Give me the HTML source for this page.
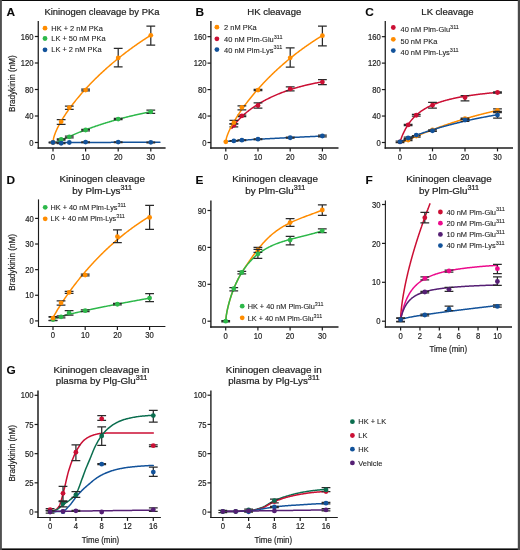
<!DOCTYPE html>
<html><head><meta charset="utf-8"><style>
html,body{margin:0;padding:0;background:#fff;}
body{width:520px;height:550px;overflow:hidden;position:relative;}
svg{position:absolute;left:0;top:0;font-family:"Liberation Sans", sans-serif;will-change:transform;}
text{stroke:#1e1e1e;}
</style></head><body>
<svg width="520" height="550" viewBox="0 0 520 550">
<text transform="translate(6.5,15.8) scale(1.07,1)" font-size="11.1" text-anchor="start" font-weight="bold" fill="#0a0a0a" stroke-width="0.1">A</text>
<text x="44.4" y="15.4" font-size="9.42" text-anchor="start" font-weight="normal" fill="#1e1e1e" stroke-width="0.22">Kininogen cleavage by PKa</text>
<line x1="38.26" y1="21" x2="38.26" y2="148.75" stroke="#1c1c1c" stroke-width="1.26"/>
<line x1="37.629999999999995" y1="148.0" x2="165.6" y2="148.0" stroke="#1c1c1c" stroke-width="1.5"/>
<line x1="34.86" y1="142.50" x2="38.26" y2="142.50" stroke="#1c1c1c" stroke-width="1.2"/>
<text transform="translate(33.4,145.6) scale(0.88,1)" font-size="8.7" text-anchor="end" font-weight="normal" fill="#1e1e1e" stroke-width="0.2">0</text>
<line x1="34.86" y1="116.00" x2="38.26" y2="116.00" stroke="#1c1c1c" stroke-width="1.2"/>
<text transform="translate(33.4,119.1) scale(0.88,1)" font-size="8.7" text-anchor="end" font-weight="normal" fill="#1e1e1e" stroke-width="0.2">40</text>
<line x1="34.86" y1="89.50" x2="38.26" y2="89.50" stroke="#1c1c1c" stroke-width="1.2"/>
<text transform="translate(33.4,92.6) scale(0.88,1)" font-size="8.7" text-anchor="end" font-weight="normal" fill="#1e1e1e" stroke-width="0.2">80</text>
<line x1="34.86" y1="63.00" x2="38.26" y2="63.00" stroke="#1c1c1c" stroke-width="1.2"/>
<text transform="translate(33.4,66.1) scale(0.88,1)" font-size="8.7" text-anchor="end" font-weight="normal" fill="#1e1e1e" stroke-width="0.2">120</text>
<line x1="34.86" y1="36.50" x2="38.26" y2="36.50" stroke="#1c1c1c" stroke-width="1.2"/>
<text transform="translate(33.4,39.6) scale(0.88,1)" font-size="8.7" text-anchor="end" font-weight="normal" fill="#1e1e1e" stroke-width="0.2">160</text>
<line x1="53.00" y1="148.0" x2="53.00" y2="151.4" stroke="#1c1c1c" stroke-width="1.2"/>
<text transform="translate(53.0,159.6) scale(0.88,1)" font-size="8.7" text-anchor="middle" font-weight="normal" fill="#1e1e1e" stroke-width="0.2">0</text>
<line x1="85.60" y1="148.0" x2="85.60" y2="151.4" stroke="#1c1c1c" stroke-width="1.2"/>
<text transform="translate(85.6,159.6) scale(0.88,1)" font-size="8.7" text-anchor="middle" font-weight="normal" fill="#1e1e1e" stroke-width="0.2">10</text>
<line x1="118.20" y1="148.0" x2="118.20" y2="151.4" stroke="#1c1c1c" stroke-width="1.2"/>
<text transform="translate(118.19999999999999,159.6) scale(0.88,1)" font-size="8.7" text-anchor="middle" font-weight="normal" fill="#1e1e1e" stroke-width="0.2">20</text>
<line x1="150.80" y1="148.0" x2="150.80" y2="151.4" stroke="#1c1c1c" stroke-width="1.2"/>
<text transform="translate(150.8,159.6) scale(0.88,1)" font-size="8.7" text-anchor="middle" font-weight="normal" fill="#1e1e1e" stroke-width="0.2">30</text>
<text transform="translate(14.6,83.7) rotate(-90) scale(0.9,1)" font-size="9" text-anchor="middle" font-weight="normal" fill="#1e1e1e" stroke-width="0.2">Bradykinin (nM)</text>
<path d="M53.00,142.50 L53.62,138.14 L54.23,135.97 L54.85,134.18 L55.46,132.58 L56.08,131.11 L56.69,129.74 L57.31,128.43 L57.92,127.18 L58.54,125.98 L59.15,124.81 L59.77,123.68 L60.38,122.59 L61.00,121.52 L61.61,120.47 L62.23,119.45 L62.84,118.45 L63.46,117.46 L64.07,116.50 L64.69,115.55 L65.30,114.61 L65.92,113.69 L66.53,112.78 L67.15,111.89 L67.76,111.00 L68.38,110.13 L68.99,109.27 L69.61,108.42 L70.22,107.58 L70.84,106.75 L71.45,105.93 L72.07,105.11 L72.68,104.31 L73.30,103.51 L73.91,102.72 L74.53,101.94 L75.14,101.17 L75.76,100.40 L76.37,99.64 L76.99,98.89 L77.60,98.14 L78.22,97.40 L78.83,96.66 L79.45,95.93 L80.06,95.21 L80.68,94.50 L81.29,93.78 L81.91,93.08 L82.52,92.38 L83.14,91.68 L83.75,90.99 L84.37,90.31 L84.98,89.63 L85.60,88.95 L86.22,88.28 L86.83,87.62 L87.45,86.95 L88.06,86.30 L88.68,85.64 L89.29,85.00 L89.91,84.35 L90.52,83.71 L91.14,83.08 L91.75,82.44 L92.37,81.82 L92.98,81.19 L93.60,80.57 L94.21,79.96 L94.83,79.34 L95.44,78.74 L96.06,78.13 L96.67,77.53 L97.29,76.93 L97.90,76.34 L98.52,75.75 L99.13,75.16 L99.75,74.57 L100.36,73.99 L100.98,73.42 L101.59,72.84 L102.21,72.27 L102.82,71.70 L103.44,71.14 L104.05,70.58 L104.67,70.02 L105.28,69.46 L105.90,68.91 L106.51,68.36 L107.13,67.81 L107.74,67.27 L108.36,66.73 L108.97,66.19 L109.59,65.66 L110.20,65.12 L110.82,64.59 L111.43,64.07 L112.05,63.54 L112.66,63.02 L113.28,62.50 L113.89,61.99 L114.51,61.47 L115.12,60.96 L115.74,60.46 L116.35,59.95 L116.97,59.45 L117.58,58.95 L118.20,58.45 L118.82,57.95 L119.43,57.46 L120.05,56.97 L120.66,56.48 L121.28,55.99 L121.89,55.51 L122.51,55.03 L123.12,54.55 L123.74,54.08 L124.35,53.60 L124.97,53.13 L125.58,52.66 L126.20,52.19 L126.81,51.73 L127.43,51.27 L128.04,50.81 L128.66,50.35 L129.27,49.89 L129.89,49.44 L130.50,48.99 L131.12,48.54 L131.73,48.09 L132.35,47.64 L132.96,47.20 L133.58,46.76 L134.19,46.32 L134.81,45.88 L135.42,45.45 L136.04,45.02 L136.65,44.59 L137.27,44.16 L137.88,43.73 L138.50,43.31 L139.11,42.88 L139.73,42.46 L140.34,42.04 L140.96,41.63 L141.57,41.21 L142.19,40.80 L142.80,40.39 L143.42,39.98 L144.03,39.57 L144.65,39.17 L145.26,38.76 L145.88,38.36 L146.49,37.96 L147.11,37.56 L147.72,37.17 L148.34,36.77 L148.95,36.38 L149.57,35.99 L150.18,35.60 L150.80,35.22" fill="none" stroke="#FF8C00" stroke-width="1.5" stroke-linejoin="round" stroke-linecap="round"/>
<path d="M57.24,142.16 L57.83,141.87 L58.41,141.58 L59.00,141.30 L59.59,141.01 L60.18,140.72 L60.77,140.44 L61.36,140.16 L61.95,139.88 L62.53,139.60 L63.12,139.32 L63.71,139.04 L64.30,138.77 L64.89,138.50 L65.48,138.22 L66.06,137.95 L66.65,137.68 L67.24,137.42 L67.83,137.15 L68.42,136.89 L69.01,136.63 L69.60,136.37 L70.18,136.11 L70.77,135.85 L71.36,135.59 L71.95,135.34 L72.54,135.09 L73.13,134.83 L73.71,134.58 L74.30,134.33 L74.89,134.09 L75.48,133.84 L76.07,133.60 L76.66,133.35 L77.24,133.11 L77.83,132.87 L78.42,132.63 L79.01,132.40 L79.60,132.16 L80.19,131.93 L80.78,131.69 L81.36,131.46 L81.95,131.23 L82.54,131.00 L83.13,130.77 L83.72,130.55 L84.31,130.32 L84.89,130.10 L85.48,129.87 L86.07,129.65 L86.66,129.43 L87.25,129.21 L87.84,129.00 L88.43,128.78 L89.01,128.56 L89.60,128.35 L90.19,128.14 L90.78,127.93 L91.37,127.72 L91.96,127.51 L92.54,127.30 L93.13,127.09 L93.72,126.89 L94.31,126.68 L94.90,126.48 L95.49,126.28 L96.08,126.08 L96.66,125.88 L97.25,125.68 L97.84,125.48 L98.43,125.28 L99.02,125.09 L99.61,124.89 L100.19,124.70 L100.78,124.51 L101.37,124.32 L101.96,124.13 L102.55,123.94 L103.14,123.75 L103.72,123.56 L104.31,123.38 L104.90,123.19 L105.49,123.01 L106.08,122.83 L106.67,122.65 L107.26,122.47 L107.84,122.29 L108.43,122.11 L109.02,121.93 L109.61,121.76 L110.20,121.58 L110.79,121.41 L111.37,121.23 L111.96,121.06 L112.55,120.89 L113.14,120.72 L113.73,120.55 L114.32,120.38 L114.91,120.22 L115.49,120.05 L116.08,119.89 L116.67,119.72 L117.26,119.56 L117.85,119.40 L118.44,119.24 L119.02,119.08 L119.61,118.92 L120.20,118.76 L120.79,118.60 L121.38,118.44 L121.97,118.29 L122.55,118.13 L123.14,117.98 L123.73,117.83 L124.32,117.68 L124.91,117.53 L125.50,117.38 L126.09,117.23 L126.67,117.08 L127.26,116.93 L127.85,116.79 L128.44,116.64 L129.03,116.50 L129.62,116.35 L130.20,116.21 L130.79,116.07 L131.38,115.93 L131.97,115.79 L132.56,115.65 L133.15,115.51 L133.74,115.37 L134.32,115.24 L134.91,115.10 L135.50,114.97 L136.09,114.83 L136.68,114.70 L137.27,114.57 L137.85,114.44 L138.44,114.31 L139.03,114.18 L139.62,114.05 L140.21,113.92 L140.80,113.79 L141.38,113.67 L141.97,113.54 L142.56,113.42 L143.15,113.29 L143.74,113.17 L144.33,113.05 L144.92,112.93 L145.50,112.81 L146.09,112.69 L146.68,112.57 L147.27,112.45 L147.86,112.33 L148.45,112.22 L149.03,112.10 L149.62,111.99 L150.21,111.87 L150.80,111.76" fill="none" stroke="#2DB84A" stroke-width="1.5" stroke-linejoin="round" stroke-linecap="round"/>
<path d="M49.41,142.44 L50.11,142.44 L50.80,142.44 L51.50,142.44 L52.19,142.43 L52.89,142.43 L53.58,142.43 L54.28,142.43 L54.97,142.43 L55.67,142.43 L56.36,142.43 L57.06,142.43 L57.75,142.43 L58.45,142.43 L59.14,142.43 L59.84,142.43 L60.53,142.43 L61.23,142.43 L61.93,142.42 L62.62,142.42 L63.32,142.42 L64.01,142.42 L64.71,142.42 L65.40,142.42 L66.10,142.42 L66.79,142.42 L67.49,142.42 L68.18,142.42 L68.88,142.42 L69.57,142.42 L70.27,142.42 L70.96,142.42 L71.66,142.41 L72.35,142.41 L73.05,142.41 L73.74,142.41 L74.44,142.41 L75.13,142.41 L75.83,142.41 L76.52,142.41 L77.22,142.41 L77.91,142.41 L78.61,142.41 L79.30,142.41 L80.00,142.41 L80.69,142.41 L81.39,142.40 L82.08,142.40 L82.78,142.40 L83.47,142.40 L84.17,142.40 L84.86,142.40 L85.56,142.40 L86.25,142.40 L86.95,142.40 L87.64,142.40 L88.34,142.40 L89.03,142.40 L89.73,142.40 L90.42,142.40 L91.12,142.40 L91.81,142.39 L92.51,142.39 L93.20,142.39 L93.90,142.39 L94.59,142.39 L95.29,142.39 L95.98,142.39 L96.68,142.39 L97.37,142.39 L98.07,142.39 L98.76,142.39 L99.46,142.39 L100.15,142.39 L100.85,142.39 L101.54,142.38 L102.24,142.38 L102.93,142.38 L103.63,142.38 L104.32,142.38 L105.02,142.38 L105.71,142.38 L106.41,142.38 L107.10,142.38 L107.80,142.38 L108.49,142.38 L109.19,142.38 L109.88,142.38 L110.58,142.38 L111.27,142.37 L111.97,142.37 L112.66,142.37 L113.36,142.37 L114.05,142.37 L114.75,142.37 L115.44,142.37 L116.14,142.37 L116.83,142.37 L117.53,142.37 L118.22,142.37 L118.92,142.37 L119.61,142.37 L120.31,142.37 L121.00,142.36 L121.70,142.36 L122.39,142.36 L123.09,142.36 L123.79,142.36 L124.48,142.36 L125.18,142.36 L125.87,142.36 L126.57,142.36 L127.26,142.36 L127.96,142.36 L128.65,142.36 L129.35,142.36 L130.04,142.36 L130.74,142.35 L131.43,142.35 L132.13,142.35 L132.82,142.35 L133.52,142.35 L134.21,142.35 L134.91,142.35 L135.60,142.35 L136.30,142.35 L136.99,142.35 L137.69,142.35 L138.38,142.35 L139.08,142.35 L139.77,142.35 L140.47,142.34 L141.16,142.34 L141.86,142.34 L142.55,142.34 L143.25,142.34 L143.94,142.34 L144.64,142.34 L145.33,142.34 L146.03,142.34 L146.72,142.34 L147.42,142.34 L148.11,142.34 L148.81,142.34 L149.50,142.34 L150.20,142.33 L150.89,142.33 L151.59,142.33 L152.28,142.33 L152.98,142.33 L153.67,142.33 L154.37,142.33 L155.06,142.33 L155.76,142.33 L156.45,142.33 L157.15,142.33 L157.84,142.33 L158.54,142.33 L159.23,142.33 L159.93,142.33" fill="none" stroke="#12529A" stroke-width="1.5" stroke-linejoin="round" stroke-linecap="round"/>
<path d="M61.15,124.28 V119.64 M56.75,124.28 H65.55 M56.75,119.64 H65.55" stroke="#2a2a2a" stroke-width="1.25" fill="none"/>
<path d="M69.30,109.38 V106.06 M64.90,109.38 H73.70 M64.90,106.06 H73.70" stroke="#2a2a2a" stroke-width="1.25" fill="none"/>
<path d="M85.60,90.83 V89.17 M81.20,90.83 H90.00 M81.20,89.17 H90.00" stroke="#2a2a2a" stroke-width="1.25" fill="none"/>
<path d="M118.20,66.98 V48.42 M113.80,66.98 H122.60 M113.80,48.42 H122.60" stroke="#2a2a2a" stroke-width="1.25" fill="none"/>
<path d="M150.80,45.11 V26.23 M146.40,45.11 H155.20 M146.40,26.23 H155.20" stroke="#2a2a2a" stroke-width="1.25" fill="none"/>
<path d="M85.60,130.91 V129.25 M81.20,130.91 H90.00 M81.20,129.25 H90.00" stroke="#2a2a2a" stroke-width="1.25" fill="none"/>
<path d="M118.20,119.64 V118.32 M113.80,119.64 H122.60 M113.80,118.32 H122.60" stroke="#2a2a2a" stroke-width="1.25" fill="none"/>
<path d="M150.80,113.35 V110.04 M146.40,113.35 H155.20 M146.40,110.04 H155.20" stroke="#2a2a2a" stroke-width="1.25" fill="none"/>
<path d="M61.15,140.18 V138.86 M56.75,140.18 H65.55 M56.75,138.86 H65.55" stroke="#2a2a2a" stroke-width="1.25" fill="none"/>
<path d="M69.30,137.86 V136.21 M64.90,137.86 H73.70 M64.90,136.21 H73.70" stroke="#2a2a2a" stroke-width="1.25" fill="none"/>
<path d="M53.00,142.83 V142.17 M48.60,142.83 H57.40 M48.60,142.17 H57.40" stroke="#2a2a2a" stroke-width="1.25" fill="none"/>
<path d="M61.15,143.69 V142.83 M56.75,143.69 H65.55 M56.75,142.83 H65.55" stroke="#2a2a2a" stroke-width="1.25" fill="none"/>
<path d="M85.60,142.70 V141.84 M81.20,142.70 H90.00 M81.20,141.84 H90.00" stroke="#2a2a2a" stroke-width="1.25" fill="none"/>
<path d="M118.20,142.50 V141.84 M113.80,142.50 H122.60 M113.80,141.84 H122.60" stroke="#2a2a2a" stroke-width="1.25" fill="none"/>
<path d="M150.80,142.83 V142.17 M146.40,142.83 H155.20 M146.40,142.17 H155.20" stroke="#2a2a2a" stroke-width="1.25" fill="none"/>
<circle cx="53.00" cy="142.50" r="2.4" fill="#FF8C00"/>
<circle cx="61.15" cy="121.70" r="2.4" fill="#FF8C00"/>
<circle cx="69.30" cy="107.72" r="2.4" fill="#FF8C00"/>
<circle cx="85.60" cy="90.03" r="2.4" fill="#FF8C00"/>
<circle cx="118.20" cy="57.90" r="2.4" fill="#FF8C00"/>
<circle cx="150.80" cy="35.37" r="2.4" fill="#FF8C00"/>
<circle cx="61.15" cy="139.39" r="2.4" fill="#2DB84A"/>
<circle cx="69.30" cy="136.87" r="2.4" fill="#2DB84A"/>
<circle cx="85.60" cy="129.98" r="2.4" fill="#2DB84A"/>
<circle cx="118.20" cy="119.11" r="2.4" fill="#2DB84A"/>
<circle cx="150.80" cy="111.83" r="2.4" fill="#2DB84A"/>
<circle cx="53.00" cy="142.50" r="2.4" fill="#12529A"/>
<circle cx="61.15" cy="143.23" r="2.4" fill="#12529A"/>
<circle cx="69.30" cy="142.50" r="2.4" fill="#12529A"/>
<circle cx="85.60" cy="142.04" r="2.4" fill="#12529A"/>
<circle cx="118.20" cy="142.10" r="2.4" fill="#12529A"/>
<circle cx="150.80" cy="142.30" r="2.4" fill="#12529A"/>
<circle cx="45" cy="28.2" r="2.4" fill="#FF8C00"/>
<text x="51.3" y="30.8" font-size="7.45" text-anchor="start" font-weight="normal" fill="#1e1e1e" stroke-width="0.1">HK + 2 nM PKa</text>
<circle cx="45" cy="38.5" r="2.4" fill="#2DB84A"/>
<text x="51.3" y="41.1" font-size="7.45" text-anchor="start" font-weight="normal" fill="#1e1e1e" stroke-width="0.1">LK + 50 nM PKa</text>
<circle cx="45" cy="49.8" r="2.4" fill="#12529A"/>
<text x="51.3" y="52.4" font-size="7.45" text-anchor="start" font-weight="normal" fill="#1e1e1e" stroke-width="0.1">LK + 2 nM PKa</text>
<text transform="translate(195.4,15.8) scale(1.07,1)" font-size="11.1" text-anchor="start" font-weight="bold" fill="#0a0a0a" stroke-width="0.1">B</text>
<text x="274.3" y="15.4" font-size="9.5" text-anchor="middle" font-weight="normal" fill="#1e1e1e" stroke-width="0.22">HK cleavage</text>
<line x1="210.9" y1="21" x2="210.9" y2="148.75" stroke="#1c1c1c" stroke-width="1.37"/>
<line x1="210.215" y1="148.0" x2="338.5" y2="148.0" stroke="#1c1c1c" stroke-width="1.5"/>
<line x1="207.5" y1="142.50" x2="210.9" y2="142.50" stroke="#1c1c1c" stroke-width="1.2"/>
<text transform="translate(206.6,145.6) scale(0.88,1)" font-size="8.7" text-anchor="end" font-weight="normal" fill="#1e1e1e" stroke-width="0.2">0</text>
<line x1="207.5" y1="116.04" x2="210.9" y2="116.04" stroke="#1c1c1c" stroke-width="1.2"/>
<text transform="translate(206.6,119.13999999999999) scale(0.88,1)" font-size="8.7" text-anchor="end" font-weight="normal" fill="#1e1e1e" stroke-width="0.2">40</text>
<line x1="207.5" y1="89.58" x2="210.9" y2="89.58" stroke="#1c1c1c" stroke-width="1.2"/>
<text transform="translate(206.6,92.67999999999999) scale(0.88,1)" font-size="8.7" text-anchor="end" font-weight="normal" fill="#1e1e1e" stroke-width="0.2">80</text>
<line x1="207.5" y1="63.12" x2="210.9" y2="63.12" stroke="#1c1c1c" stroke-width="1.2"/>
<text transform="translate(206.6,66.22) scale(0.88,1)" font-size="8.7" text-anchor="end" font-weight="normal" fill="#1e1e1e" stroke-width="0.2">120</text>
<line x1="207.5" y1="36.66" x2="210.9" y2="36.66" stroke="#1c1c1c" stroke-width="1.2"/>
<text transform="translate(206.6,39.76) scale(0.88,1)" font-size="8.7" text-anchor="end" font-weight="normal" fill="#1e1e1e" stroke-width="0.2">160</text>
<line x1="225.80" y1="148.0" x2="225.80" y2="151.4" stroke="#1c1c1c" stroke-width="1.2"/>
<text transform="translate(225.8,159.6) scale(0.88,1)" font-size="8.7" text-anchor="middle" font-weight="normal" fill="#1e1e1e" stroke-width="0.2">0</text>
<line x1="258.00" y1="148.0" x2="258.00" y2="151.4" stroke="#1c1c1c" stroke-width="1.2"/>
<text transform="translate(258.0,159.6) scale(0.88,1)" font-size="8.7" text-anchor="middle" font-weight="normal" fill="#1e1e1e" stroke-width="0.2">10</text>
<line x1="290.20" y1="148.0" x2="290.20" y2="151.4" stroke="#1c1c1c" stroke-width="1.2"/>
<text transform="translate(290.20000000000005,159.6) scale(0.88,1)" font-size="8.7" text-anchor="middle" font-weight="normal" fill="#1e1e1e" stroke-width="0.2">20</text>
<line x1="322.40" y1="148.0" x2="322.40" y2="151.4" stroke="#1c1c1c" stroke-width="1.2"/>
<text transform="translate(322.40000000000003,159.6) scale(0.88,1)" font-size="8.7" text-anchor="middle" font-weight="normal" fill="#1e1e1e" stroke-width="0.2">30</text>
<path d="M225.80,141.72 L226.41,141.54 L227.02,141.45 L227.62,141.37 L228.23,141.31 L228.84,141.24 L229.45,141.18 L230.05,141.13 L230.66,141.07 L231.27,141.02 L231.88,140.97 L232.48,140.92 L233.09,140.87 L233.70,140.82 L234.31,140.78 L234.91,140.73 L235.52,140.69 L236.13,140.64 L236.74,140.60 L237.34,140.56 L237.95,140.51 L238.56,140.47 L239.17,140.43 L239.77,140.39 L240.38,140.35 L240.99,140.31 L241.60,140.27 L242.20,140.23 L242.81,140.19 L243.42,140.15 L244.03,140.11 L244.63,140.07 L245.24,140.03 L245.85,139.99 L246.46,139.96 L247.06,139.92 L247.67,139.88 L248.28,139.84 L248.89,139.81 L249.49,139.77 L250.10,139.73 L250.71,139.70 L251.32,139.66 L251.92,139.62 L252.53,139.59 L253.14,139.55 L253.75,139.52 L254.35,139.48 L254.96,139.45 L255.57,139.41 L256.18,139.38 L256.78,139.34 L257.39,139.31 L258.00,139.27 L258.61,139.24 L259.22,139.20 L259.82,139.17 L260.43,139.14 L261.04,139.10 L261.65,139.07 L262.25,139.03 L262.86,139.00 L263.47,138.97 L264.08,138.93 L264.68,138.90 L265.29,138.87 L265.90,138.83 L266.51,138.80 L267.11,138.77 L267.72,138.74 L268.33,138.70 L268.94,138.67 L269.54,138.64 L270.15,138.60 L270.76,138.57 L271.37,138.54 L271.97,138.51 L272.58,138.48 L273.19,138.44 L273.80,138.41 L274.40,138.38 L275.01,138.35 L275.62,138.32 L276.23,138.29 L276.83,138.25 L277.44,138.22 L278.05,138.19 L278.66,138.16 L279.26,138.13 L279.87,138.10 L280.48,138.07 L281.09,138.04 L281.69,138.00 L282.30,137.97 L282.91,137.94 L283.52,137.91 L284.12,137.88 L284.73,137.85 L285.34,137.82 L285.95,137.79 L286.55,137.76 L287.16,137.73 L287.77,137.70 L288.38,137.67 L288.98,137.64 L289.59,137.61 L290.20,137.58 L290.81,137.55 L291.42,137.52 L292.02,137.49 L292.63,137.46 L293.24,137.43 L293.85,137.40 L294.45,137.37 L295.06,137.34 L295.67,137.31 L296.28,137.28 L296.88,137.25 L297.49,137.22 L298.10,137.19 L298.71,137.16 L299.31,137.13 L299.92,137.10 L300.53,137.07 L301.14,137.04 L301.74,137.02 L302.35,136.99 L302.96,136.96 L303.57,136.93 L304.17,136.90 L304.78,136.87 L305.39,136.84 L306.00,136.81 L306.60,136.78 L307.21,136.76 L307.82,136.73 L308.43,136.70 L309.03,136.67 L309.64,136.64 L310.25,136.61 L310.86,136.58 L311.46,136.56 L312.07,136.53 L312.68,136.50 L313.29,136.47 L313.89,136.44 L314.50,136.41 L315.11,136.39 L315.72,136.36 L316.32,136.33 L316.93,136.30 L317.54,136.27 L318.15,136.25 L318.75,136.22 L319.36,136.19 L319.97,136.16 L320.58,136.13 L321.18,136.11 L321.79,136.08 L322.40,136.05" fill="none" stroke="#12529A" stroke-width="1.5" stroke-linejoin="round" stroke-linecap="round"/>
<path d="M233.85,141.18 V140.52 M229.45,141.18 H238.25 M229.45,140.52 H238.25" stroke="#2a2a2a" stroke-width="1.25" fill="none"/>
<path d="M241.90,140.65 V139.85 M237.50,140.65 H246.30 M237.50,139.85 H246.30" stroke="#2a2a2a" stroke-width="1.25" fill="none"/>
<path d="M258.00,139.66 V138.86 M253.60,139.66 H262.40 M253.60,138.86 H262.40" stroke="#2a2a2a" stroke-width="1.25" fill="none"/>
<path d="M290.20,138.20 V137.21 M285.80,138.20 H294.60 M285.80,137.21 H294.60" stroke="#2a2a2a" stroke-width="1.25" fill="none"/>
<path d="M322.40,136.88 V135.22 M318.00,136.88 H326.80 M318.00,135.22 H326.80" stroke="#2a2a2a" stroke-width="1.25" fill="none"/>
<circle cx="233.85" cy="140.91" r="2.4" fill="#12529A"/>
<circle cx="241.90" cy="140.18" r="2.4" fill="#12529A"/>
<circle cx="258.00" cy="139.19" r="2.4" fill="#12529A"/>
<circle cx="290.20" cy="137.74" r="2.4" fill="#12529A"/>
<circle cx="322.40" cy="136.02" r="2.4" fill="#12529A"/>
<path d="M231.92,128.34 L232.49,127.47 L233.06,126.64 L233.63,125.83 L234.19,125.06 L234.76,124.31 L235.33,123.59 L235.90,122.89 L236.47,122.21 L237.04,121.54 L237.61,120.90 L238.18,120.27 L238.75,119.65 L239.32,119.05 L239.88,118.46 L240.45,117.89 L241.02,117.33 L241.59,116.77 L242.16,116.23 L242.73,115.70 L243.30,115.18 L243.87,114.67 L244.44,114.17 L245.01,113.68 L245.58,113.20 L246.14,112.72 L246.71,112.25 L247.28,111.79 L247.85,111.34 L248.42,110.89 L248.99,110.45 L249.56,110.02 L250.13,109.60 L250.70,109.18 L251.27,108.76 L251.84,108.35 L252.40,107.95 L252.97,107.55 L253.54,107.16 L254.11,106.78 L254.68,106.40 L255.25,106.02 L255.82,105.65 L256.39,105.28 L256.96,104.92 L257.53,104.57 L258.10,104.21 L258.66,103.86 L259.23,103.52 L259.80,103.18 L260.37,102.85 L260.94,102.52 L261.51,102.19 L262.08,101.86 L262.65,101.54 L263.22,101.23 L263.79,100.92 L264.35,100.61 L264.92,100.30 L265.49,100.00 L266.06,99.70 L266.63,99.41 L267.20,99.12 L267.77,98.83 L268.34,98.55 L268.91,98.26 L269.48,97.99 L270.05,97.71 L270.61,97.44 L271.18,97.17 L271.75,96.90 L272.32,96.64 L272.89,96.38 L273.46,96.12 L274.03,95.87 L274.60,95.61 L275.17,95.36 L275.74,95.12 L276.31,94.87 L276.87,94.63 L277.44,94.39 L278.01,94.16 L278.58,93.92 L279.15,93.69 L279.72,93.46 L280.29,93.24 L280.86,93.01 L281.43,92.79 L282.00,92.57 L282.57,92.35 L283.13,92.14 L283.70,91.93 L284.27,91.72 L284.84,91.51 L285.41,91.30 L285.98,91.10 L286.55,90.90 L287.12,90.70 L287.69,90.50 L288.26,90.31 L288.82,90.12 L289.39,89.92 L289.96,89.74 L290.53,89.55 L291.10,89.36 L291.67,89.18 L292.24,89.00 L292.81,88.82 L293.38,88.65 L293.95,88.47 L294.52,88.30 L295.08,88.13 L295.65,87.96 L296.22,87.79 L296.79,87.62 L297.36,87.46 L297.93,87.30 L298.50,87.14 L299.07,86.98 L299.64,86.82 L300.21,86.67 L300.78,86.52 L301.34,86.37 L301.91,86.22 L302.48,86.07 L303.05,85.92 L303.62,85.78 L304.19,85.63 L304.76,85.49 L305.33,85.35 L305.90,85.22 L306.47,85.08 L307.04,84.94 L307.60,84.81 L308.17,84.68 L308.74,84.55 L309.31,84.42 L309.88,84.29 L310.45,84.17 L311.02,84.05 L311.59,83.92 L312.16,83.80 L312.73,83.68 L313.29,83.57 L313.86,83.45 L314.43,83.33 L315.00,83.22 L315.57,83.11 L316.14,83.00 L316.71,82.89 L317.28,82.78 L317.85,82.68 L318.42,82.57 L318.99,82.47 L319.55,82.37 L320.12,82.27 L320.69,82.17 L321.26,82.07 L321.83,81.97 L322.40,81.88" fill="none" stroke="#CB0F34" stroke-width="1.5" stroke-linejoin="round" stroke-linecap="round"/>
<path d="M233.85,126.95 V123.98 M229.45,126.95 H238.25 M229.45,123.98 H238.25" stroke="#2a2a2a" stroke-width="1.25" fill="none"/>
<path d="M241.90,116.70 V115.05 M237.50,116.70 H246.30 M237.50,115.05 H246.30" stroke="#2a2a2a" stroke-width="1.25" fill="none"/>
<path d="M258.00,108.10 V102.81 M253.60,108.10 H262.40 M253.60,102.81 H262.40" stroke="#2a2a2a" stroke-width="1.25" fill="none"/>
<path d="M290.20,90.90 V86.93 M285.80,90.90 H294.60 M285.80,86.93 H294.60" stroke="#2a2a2a" stroke-width="1.25" fill="none"/>
<path d="M322.40,84.62 V79.66 M318.00,84.62 H326.80 M318.00,79.66 H326.80" stroke="#2a2a2a" stroke-width="1.25" fill="none"/>
<circle cx="233.85" cy="125.23" r="2.4" fill="#CB0F34"/>
<circle cx="241.90" cy="115.78" r="2.4" fill="#CB0F34"/>
<circle cx="258.00" cy="105.46" r="2.4" fill="#CB0F34"/>
<circle cx="290.20" cy="88.92" r="2.4" fill="#CB0F34"/>
<circle cx="322.40" cy="82.11" r="2.4" fill="#CB0F34"/>
<path d="M225.80,141.89 L226.41,138.13 L227.02,136.14 L227.62,134.46 L228.23,132.95 L228.84,131.54 L229.45,130.20 L230.05,128.93 L230.66,127.71 L231.27,126.53 L231.88,125.38 L232.48,124.26 L233.09,123.17 L233.70,122.11 L234.31,121.06 L234.91,120.04 L235.52,119.04 L236.13,118.05 L236.74,117.08 L237.34,116.12 L237.95,115.18 L238.56,114.25 L239.17,113.33 L239.77,112.43 L240.38,111.53 L240.99,110.65 L241.60,109.78 L242.20,108.91 L242.81,108.06 L243.42,107.22 L244.03,106.38 L244.63,105.55 L245.24,104.73 L245.85,103.92 L246.46,103.12 L247.06,102.33 L247.67,101.54 L248.28,100.76 L248.89,99.98 L249.49,99.21 L250.10,98.45 L250.71,97.70 L251.32,96.95 L251.92,96.21 L252.53,95.47 L253.14,94.74 L253.75,94.02 L254.35,93.30 L254.96,92.58 L255.57,91.87 L256.18,91.17 L256.78,90.47 L257.39,89.78 L258.00,89.09 L258.61,88.41 L259.22,87.73 L259.82,87.06 L260.43,86.39 L261.04,85.72 L261.65,85.06 L262.25,84.41 L262.86,83.76 L263.47,83.11 L264.08,82.47 L264.68,81.83 L265.29,81.20 L265.90,80.57 L266.51,79.94 L267.11,79.32 L267.72,78.70 L268.33,78.09 L268.94,77.48 L269.54,76.87 L270.15,76.27 L270.76,75.67 L271.37,75.08 L271.97,74.49 L272.58,73.90 L273.19,73.31 L273.80,72.73 L274.40,72.16 L275.01,71.58 L275.62,71.01 L276.23,70.45 L276.83,69.88 L277.44,69.32 L278.05,68.76 L278.66,68.21 L279.26,67.66 L279.87,67.11 L280.48,66.57 L281.09,66.03 L281.69,65.49 L282.30,64.96 L282.91,64.43 L283.52,63.90 L284.12,63.37 L284.73,62.85 L285.34,62.33 L285.95,61.81 L286.55,61.30 L287.16,60.79 L287.77,60.28 L288.38,59.78 L288.98,59.27 L289.59,58.77 L290.20,58.28 L290.81,57.78 L291.42,57.29 L292.02,56.81 L292.63,56.32 L293.24,55.84 L293.85,55.36 L294.45,54.88 L295.06,54.41 L295.67,53.93 L296.28,53.46 L296.88,53.00 L297.49,52.53 L298.10,52.07 L298.71,51.61 L299.31,51.16 L299.92,50.70 L300.53,50.25 L301.14,49.80 L301.74,49.35 L302.35,48.91 L302.96,48.47 L303.57,48.03 L304.17,47.59 L304.78,47.16 L305.39,46.73 L306.00,46.30 L306.60,45.87 L307.21,45.44 L307.82,45.02 L308.43,44.60 L309.03,44.18 L309.64,43.77 L310.25,43.36 L310.86,42.94 L311.46,42.54 L312.07,42.13 L312.68,41.73 L313.29,41.32 L313.89,40.92 L314.50,40.53 L315.11,40.13 L315.72,39.74 L316.32,39.35 L316.93,38.96 L317.54,38.57 L318.15,38.19 L318.75,37.81 L319.36,37.43 L319.97,37.05 L320.58,36.67 L321.18,36.30 L321.79,35.93 L322.40,35.56" fill="none" stroke="#FF8C00" stroke-width="1.5" stroke-linejoin="round" stroke-linecap="round"/>
<path d="M233.85,123.98 V120.34 M229.45,123.98 H238.25 M229.45,120.34 H238.25" stroke="#2a2a2a" stroke-width="1.25" fill="none"/>
<path d="M241.90,109.76 V105.79 M237.50,109.76 H246.30 M237.50,105.79 H246.30" stroke="#2a2a2a" stroke-width="1.25" fill="none"/>
<path d="M258.00,90.70 V89.45 M253.60,90.70 H262.40 M253.60,89.45 H262.40" stroke="#2a2a2a" stroke-width="1.25" fill="none"/>
<path d="M290.20,67.09 V47.91 M285.80,67.09 H294.60 M285.80,47.91 H294.60" stroke="#2a2a2a" stroke-width="1.25" fill="none"/>
<path d="M322.40,45.92 V26.08 M318.00,45.92 H326.80 M318.00,26.08 H326.80" stroke="#2a2a2a" stroke-width="1.25" fill="none"/>
<circle cx="225.80" cy="141.84" r="2.4" fill="#FF8C00"/>
<circle cx="233.85" cy="122.66" r="2.4" fill="#FF8C00"/>
<circle cx="241.90" cy="107.44" r="2.4" fill="#FF8C00"/>
<circle cx="258.00" cy="90.11" r="2.4" fill="#FF8C00"/>
<circle cx="290.20" cy="57.83" r="2.4" fill="#FF8C00"/>
<circle cx="322.40" cy="35.67" r="2.4" fill="#FF8C00"/>
<circle cx="216.9" cy="27.2" r="2.4" fill="#FF8C00"/>
<text x="224.1" y="30.099999999999998" font-size="7.45" text-anchor="start" font-weight="normal" fill="#1e1e1e" stroke-width="0.1">2 nM PKa</text>
<circle cx="216.9" cy="38.8" r="2.4" fill="#CB0F34"/>
<text x="224.1" y="41.699999999999996" font-size="7.45" text-anchor="start" font-weight="normal" fill="#1e1e1e" stroke-width="0.1">40 nM Plm-Glu<tspan dy="-3.13" font-size="5.51">311</tspan></text>
<circle cx="216.9" cy="49.6" r="2.4" fill="#12529A"/>
<text x="224.1" y="52.5" font-size="7.45" text-anchor="start" font-weight="normal" fill="#1e1e1e" stroke-width="0.1">40 nM Plm-Lys<tspan dy="-3.13" font-size="5.51">311</tspan></text>
<text transform="translate(365.2,15.8) scale(1.07,1)" font-size="11.1" text-anchor="start" font-weight="bold" fill="#0a0a0a" stroke-width="0.1">C</text>
<text x="447.5" y="15.4" font-size="9.5" text-anchor="middle" font-weight="normal" fill="#1e1e1e" stroke-width="0.22">LK cleavage</text>
<line x1="385.26" y1="21" x2="385.26" y2="148.75" stroke="#1c1c1c" stroke-width="1.26"/>
<line x1="384.63" y1="148.0" x2="513" y2="148.0" stroke="#1c1c1c" stroke-width="1.5"/>
<line x1="381.86" y1="142.50" x2="385.26" y2="142.50" stroke="#1c1c1c" stroke-width="1.2"/>
<text transform="translate(380.7,145.6) scale(0.88,1)" font-size="8.7" text-anchor="end" font-weight="normal" fill="#1e1e1e" stroke-width="0.2">0</text>
<line x1="381.86" y1="116.04" x2="385.26" y2="116.04" stroke="#1c1c1c" stroke-width="1.2"/>
<text transform="translate(380.7,119.13999999999999) scale(0.88,1)" font-size="8.7" text-anchor="end" font-weight="normal" fill="#1e1e1e" stroke-width="0.2">40</text>
<line x1="381.86" y1="89.58" x2="385.26" y2="89.58" stroke="#1c1c1c" stroke-width="1.2"/>
<text transform="translate(380.7,92.67999999999999) scale(0.88,1)" font-size="8.7" text-anchor="end" font-weight="normal" fill="#1e1e1e" stroke-width="0.2">80</text>
<line x1="381.86" y1="63.12" x2="385.26" y2="63.12" stroke="#1c1c1c" stroke-width="1.2"/>
<text transform="translate(380.7,66.22) scale(0.88,1)" font-size="8.7" text-anchor="end" font-weight="normal" fill="#1e1e1e" stroke-width="0.2">120</text>
<line x1="381.86" y1="36.66" x2="385.26" y2="36.66" stroke="#1c1c1c" stroke-width="1.2"/>
<text transform="translate(380.7,39.76) scale(0.88,1)" font-size="8.7" text-anchor="end" font-weight="normal" fill="#1e1e1e" stroke-width="0.2">160</text>
<line x1="400.00" y1="148.0" x2="400.00" y2="151.4" stroke="#1c1c1c" stroke-width="1.2"/>
<text transform="translate(400.0,159.6) scale(0.88,1)" font-size="8.7" text-anchor="middle" font-weight="normal" fill="#1e1e1e" stroke-width="0.2">0</text>
<line x1="432.50" y1="148.0" x2="432.50" y2="151.4" stroke="#1c1c1c" stroke-width="1.2"/>
<text transform="translate(432.5,159.6) scale(0.88,1)" font-size="8.7" text-anchor="middle" font-weight="normal" fill="#1e1e1e" stroke-width="0.2">10</text>
<line x1="465.00" y1="148.0" x2="465.00" y2="151.4" stroke="#1c1c1c" stroke-width="1.2"/>
<text transform="translate(465.0,159.6) scale(0.88,1)" font-size="8.7" text-anchor="middle" font-weight="normal" fill="#1e1e1e" stroke-width="0.2">20</text>
<line x1="497.50" y1="148.0" x2="497.50" y2="151.4" stroke="#1c1c1c" stroke-width="1.2"/>
<text transform="translate(497.5,159.6) scale(0.88,1)" font-size="8.7" text-anchor="middle" font-weight="normal" fill="#1e1e1e" stroke-width="0.2">30</text>
<path d="M400.00,141.84 L400.61,140.06 L401.23,138.39 L401.84,136.82 L402.45,135.32 L403.07,133.91 L403.68,132.57 L404.29,131.30 L404.91,130.09 L405.52,128.94 L406.13,127.85 L406.75,126.80 L407.36,125.80 L407.97,124.85 L408.58,123.93 L409.20,123.05 L409.81,122.21 L410.42,121.41 L411.04,120.63 L411.65,119.89 L412.26,119.17 L412.88,118.49 L413.49,117.82 L414.10,117.18 L414.72,116.56 L415.33,115.97 L415.94,115.39 L416.56,114.84 L417.17,114.30 L417.78,113.78 L418.40,113.27 L419.01,112.79 L419.62,112.31 L420.24,111.85 L420.85,111.41 L421.46,110.98 L422.08,110.56 L422.69,110.15 L423.30,109.76 L423.92,109.37 L424.53,109.00 L425.14,108.63 L425.75,108.28 L426.37,107.94 L426.98,107.60 L427.59,107.27 L428.21,106.96 L428.82,106.64 L429.43,106.34 L430.05,106.05 L430.66,105.76 L431.27,105.48 L431.89,105.20 L432.50,104.93 L433.11,104.67 L433.73,104.42 L434.34,104.17 L434.95,103.92 L435.57,103.68 L436.18,103.45 L436.79,103.22 L437.41,102.99 L438.02,102.77 L438.63,102.56 L439.25,102.35 L439.86,102.14 L440.47,101.94 L441.08,101.74 L441.70,101.55 L442.31,101.36 L442.92,101.17 L443.54,100.99 L444.15,100.81 L444.76,100.63 L445.38,100.46 L445.99,100.29 L446.60,100.13 L447.22,99.96 L447.83,99.80 L448.44,99.65 L449.06,99.49 L449.67,99.34 L450.28,99.19 L450.90,99.04 L451.51,98.90 L452.12,98.76 L452.74,98.62 L453.35,98.48 L453.96,98.35 L454.58,98.21 L455.19,98.08 L455.80,97.96 L456.42,97.83 L457.03,97.71 L457.64,97.58 L458.25,97.46 L458.87,97.34 L459.48,97.23 L460.09,97.11 L460.71,97.00 L461.32,96.89 L461.93,96.78 L462.55,96.67 L463.16,96.56 L463.77,96.46 L464.39,96.36 L465.00,96.25 L465.61,96.15 L466.23,96.06 L466.84,95.96 L467.45,95.86 L468.07,95.77 L468.68,95.67 L469.29,95.58 L469.91,95.49 L470.52,95.40 L471.13,95.31 L471.75,95.22 L472.36,95.14 L472.97,95.05 L473.58,94.97 L474.20,94.89 L474.81,94.80 L475.42,94.72 L476.04,94.64 L476.65,94.56 L477.26,94.49 L477.88,94.41 L478.49,94.33 L479.10,94.26 L479.72,94.19 L480.33,94.11 L480.94,94.04 L481.56,93.97 L482.17,93.90 L482.78,93.83 L483.40,93.76 L484.01,93.69 L484.62,93.63 L485.24,93.56 L485.85,93.49 L486.46,93.43 L487.08,93.36 L487.69,93.30 L488.30,93.24 L488.92,93.18 L489.53,93.12 L490.14,93.05 L490.75,92.99 L491.37,92.94 L491.98,92.88 L492.59,92.82 L493.21,92.76 L493.82,92.70 L494.43,92.65 L495.05,92.59 L495.66,92.54 L496.27,92.48 L496.89,92.43 L497.50,92.38" fill="none" stroke="#CB0F34" stroke-width="1.5" stroke-linejoin="round" stroke-linecap="round"/>
<path d="M400.00,141.85 L400.61,142.35 L401.23,142.31 L401.84,142.17 L402.45,142.00 L403.07,141.80 L403.68,141.58 L404.29,141.36 L404.91,141.12 L405.52,140.88 L406.13,140.63 L406.75,140.38 L407.36,140.13 L407.97,139.87 L408.58,139.61 L409.20,139.35 L409.81,139.09 L410.42,138.83 L411.04,138.57 L411.65,138.31 L412.26,138.05 L412.88,137.78 L413.49,137.52 L414.10,137.26 L414.72,137.00 L415.33,136.74 L415.94,136.48 L416.56,136.22 L417.17,135.96 L417.78,135.70 L418.40,135.44 L419.01,135.19 L419.62,134.93 L420.24,134.68 L420.85,134.42 L421.46,134.17 L422.08,133.92 L422.69,133.66 L423.30,133.41 L423.92,133.16 L424.53,132.92 L425.14,132.67 L425.75,132.42 L426.37,132.17 L426.98,131.93 L427.59,131.69 L428.21,131.44 L428.82,131.20 L429.43,130.96 L430.05,130.72 L430.66,130.48 L431.27,130.24 L431.89,130.01 L432.50,129.77 L433.11,129.54 L433.73,129.30 L434.34,129.07 L434.95,128.84 L435.57,128.61 L436.18,128.38 L436.79,128.15 L437.41,127.92 L438.02,127.70 L438.63,127.47 L439.25,127.25 L439.86,127.03 L440.47,126.80 L441.08,126.58 L441.70,126.36 L442.31,126.14 L442.92,125.93 L443.54,125.71 L444.15,125.49 L444.76,125.28 L445.38,125.07 L445.99,124.85 L446.60,124.64 L447.22,124.43 L447.83,124.22 L448.44,124.01 L449.06,123.81 L449.67,123.60 L450.28,123.39 L450.90,123.19 L451.51,122.99 L452.12,122.78 L452.74,122.58 L453.35,122.38 L453.96,122.18 L454.58,121.98 L455.19,121.79 L455.80,121.59 L456.42,121.40 L457.03,121.20 L457.64,121.01 L458.25,120.82 L458.87,120.63 L459.48,120.43 L460.09,120.25 L460.71,120.06 L461.32,119.87 L461.93,119.68 L462.55,119.50 L463.16,119.31 L463.77,119.13 L464.39,118.95 L465.00,118.77 L465.61,118.59 L466.23,118.41 L466.84,118.23 L467.45,118.05 L468.07,117.87 L468.68,117.70 L469.29,117.52 L469.91,117.35 L470.52,117.18 L471.13,117.00 L471.75,116.83 L472.36,116.66 L472.97,116.49 L473.58,116.32 L474.20,116.16 L474.81,115.99 L475.42,115.83 L476.04,115.66 L476.65,115.50 L477.26,115.33 L477.88,115.17 L478.49,115.01 L479.10,114.85 L479.72,114.69 L480.33,114.53 L480.94,114.38 L481.56,114.22 L482.17,114.07 L482.78,113.91 L483.40,113.76 L484.01,113.60 L484.62,113.45 L485.24,113.30 L485.85,113.15 L486.46,113.00 L487.08,112.85 L487.69,112.71 L488.30,112.56 L488.92,112.41 L489.53,112.27 L490.14,112.13 L490.75,111.98 L491.37,111.84 L491.98,111.70 L492.59,111.56 L493.21,111.42 L493.82,111.28 L494.43,111.14 L495.05,111.00 L495.66,110.87 L496.27,110.73 L496.89,110.60 L497.50,110.47" fill="none" stroke="#FF8C00" stroke-width="1.5" stroke-linejoin="round" stroke-linecap="round"/>
<path d="M400.00,141.75 L400.61,141.50 L401.23,141.23 L401.84,140.97 L402.45,140.70 L403.07,140.43 L403.68,140.17 L404.29,139.91 L404.91,139.65 L405.52,139.39 L406.13,139.14 L406.75,138.89 L407.36,138.64 L407.97,138.39 L408.58,138.15 L409.20,137.90 L409.81,137.66 L410.42,137.42 L411.04,137.18 L411.65,136.95 L412.26,136.71 L412.88,136.48 L413.49,136.25 L414.10,136.02 L414.72,135.79 L415.33,135.56 L415.94,135.34 L416.56,135.11 L417.17,134.89 L417.78,134.67 L418.40,134.45 L419.01,134.24 L419.62,134.02 L420.24,133.80 L420.85,133.59 L421.46,133.38 L422.08,133.17 L422.69,132.96 L423.30,132.75 L423.92,132.54 L424.53,132.34 L425.14,132.13 L425.75,131.93 L426.37,131.73 L426.98,131.53 L427.59,131.33 L428.21,131.13 L428.82,130.93 L429.43,130.74 L430.05,130.54 L430.66,130.35 L431.27,130.16 L431.89,129.97 L432.50,129.78 L433.11,129.59 L433.73,129.40 L434.34,129.21 L434.95,129.03 L435.57,128.84 L436.18,128.66 L436.79,128.48 L437.41,128.30 L438.02,128.12 L438.63,127.94 L439.25,127.76 L439.86,127.58 L440.47,127.40 L441.08,127.23 L441.70,127.06 L442.31,126.88 L442.92,126.71 L443.54,126.54 L444.15,126.37 L444.76,126.20 L445.38,126.03 L445.99,125.86 L446.60,125.70 L447.22,125.53 L447.83,125.37 L448.44,125.20 L449.06,125.04 L449.67,124.88 L450.28,124.72 L450.90,124.56 L451.51,124.40 L452.12,124.24 L452.74,124.08 L453.35,123.92 L453.96,123.77 L454.58,123.61 L455.19,123.46 L455.80,123.31 L456.42,123.15 L457.03,123.00 L457.64,122.85 L458.25,122.70 L458.87,122.55 L459.48,122.41 L460.09,122.26 L460.71,122.11 L461.32,121.97 L461.93,121.82 L462.55,121.68 L463.16,121.53 L463.77,121.39 L464.39,121.25 L465.00,121.11 L465.61,120.97 L466.23,120.83 L466.84,120.69 L467.45,120.56 L468.07,120.42 L468.68,120.28 L469.29,120.15 L469.91,120.01 L470.52,119.88 L471.13,119.75 L471.75,119.62 L472.36,119.48 L472.97,119.35 L473.58,119.22 L474.20,119.09 L474.81,118.97 L475.42,118.84 L476.04,118.71 L476.65,118.59 L477.26,118.46 L477.88,118.34 L478.49,118.21 L479.10,118.09 L479.72,117.97 L480.33,117.85 L480.94,117.72 L481.56,117.60 L482.17,117.48 L482.78,117.37 L483.40,117.25 L484.01,117.13 L484.62,117.01 L485.24,116.90 L485.85,116.78 L486.46,116.67 L487.08,116.55 L487.69,116.44 L488.30,116.33 L488.92,116.22 L489.53,116.11 L490.14,116.00 L490.75,115.89 L491.37,115.78 L491.98,115.67 L492.59,115.56 L493.21,115.45 L493.82,115.35 L494.43,115.24 L495.05,115.14 L495.66,115.03 L496.27,114.93 L496.89,114.83 L497.50,114.72" fill="none" stroke="#12529A" stroke-width="1.5" stroke-linejoin="round" stroke-linecap="round"/>
<path d="M408.12,125.63 V124.31 M403.73,125.63 H412.52 M403.73,124.31 H412.52" stroke="#2a2a2a" stroke-width="1.25" fill="none"/>
<path d="M416.25,116.04 V114.39 M411.85,116.04 H420.65 M411.85,114.39 H420.65" stroke="#2a2a2a" stroke-width="1.25" fill="none"/>
<path d="M432.50,108.10 V102.48 M428.10,108.10 H436.90 M428.10,102.48 H436.90" stroke="#2a2a2a" stroke-width="1.25" fill="none"/>
<path d="M465.00,100.83 V95.53 M460.60,100.83 H469.40 M460.60,95.53 H469.40" stroke="#2a2a2a" stroke-width="1.25" fill="none"/>
<path d="M497.50,93.22 V91.90 M493.10,93.22 H501.90 M493.10,91.90 H501.90" stroke="#2a2a2a" stroke-width="1.25" fill="none"/>
<circle cx="400.00" cy="141.84" r="2.4" fill="#CB0F34"/>
<circle cx="408.12" cy="124.97" r="2.4" fill="#CB0F34"/>
<circle cx="416.25" cy="115.25" r="2.4" fill="#CB0F34"/>
<circle cx="432.50" cy="105.19" r="2.4" fill="#CB0F34"/>
<circle cx="465.00" cy="97.52" r="2.4" fill="#CB0F34"/>
<circle cx="497.50" cy="92.49" r="2.4" fill="#CB0F34"/>
<path d="M408.12,140.52 V139.19 M403.73,140.52 H412.52 M403.73,139.19 H412.52" stroke="#2a2a2a" stroke-width="1.25" fill="none"/>
<path d="M416.25,137.21 V135.55 M411.85,137.21 H420.65 M411.85,135.55 H420.65" stroke="#2a2a2a" stroke-width="1.25" fill="none"/>
<path d="M465.00,119.35 V118.02 M460.60,119.35 H469.40 M460.60,118.02 H469.40" stroke="#2a2a2a" stroke-width="1.25" fill="none"/>
<path d="M497.50,112.73 V108.76 M493.10,112.73 H501.90 M493.10,108.76 H501.90" stroke="#2a2a2a" stroke-width="1.25" fill="none"/>
<circle cx="408.12" cy="139.99" r="2.4" fill="#FF8C00"/>
<circle cx="416.25" cy="136.02" r="2.4" fill="#FF8C00"/>
<circle cx="432.50" cy="130.00" r="2.4" fill="#FF8C00"/>
<circle cx="465.00" cy="118.69" r="2.4" fill="#FF8C00"/>
<circle cx="497.50" cy="110.48" r="2.4" fill="#FF8C00"/>
<path d="M400.00,142.50 V141.18 M395.60,142.50 H404.40 M395.60,141.18 H404.40" stroke="#2a2a2a" stroke-width="1.25" fill="none"/>
<path d="M408.12,138.53 V137.21 M403.73,138.53 H412.52 M403.73,137.21 H412.52" stroke="#2a2a2a" stroke-width="1.25" fill="none"/>
<path d="M432.50,131.25 V129.93 M428.10,131.25 H436.90 M428.10,129.93 H436.90" stroke="#2a2a2a" stroke-width="1.25" fill="none"/>
<path d="M465.00,121.33 V119.35 M460.60,121.33 H469.40 M460.60,119.35 H469.40" stroke="#2a2a2a" stroke-width="1.25" fill="none"/>
<path d="M497.50,118.02 V111.41 M493.10,118.02 H501.90 M493.10,111.41 H501.90" stroke="#2a2a2a" stroke-width="1.25" fill="none"/>
<circle cx="400.00" cy="141.84" r="2.4" fill="#12529A"/>
<circle cx="408.12" cy="138.00" r="2.4" fill="#12529A"/>
<circle cx="416.25" cy="135.03" r="2.4" fill="#12529A"/>
<circle cx="432.50" cy="130.73" r="2.4" fill="#12529A"/>
<circle cx="465.00" cy="120.01" r="2.4" fill="#12529A"/>
<circle cx="497.50" cy="114.98" r="2.4" fill="#12529A"/>
<circle cx="393.3" cy="27.5" r="2.4" fill="#CB0F34"/>
<text x="400.5" y="31.7" font-size="7.45" text-anchor="start" font-weight="normal" fill="#1e1e1e" stroke-width="0.1">40 nM Plm-Glu<tspan dy="-3.13" font-size="5.51">311</tspan></text>
<circle cx="393.3" cy="39.3" r="2.4" fill="#FF8C00"/>
<text x="400.5" y="43.5" font-size="7.45" text-anchor="start" font-weight="normal" fill="#1e1e1e" stroke-width="0.1">50 nM PKa</text>
<circle cx="393.3" cy="50.6" r="2.4" fill="#12529A"/>
<text x="400.5" y="54.800000000000004" font-size="7.45" text-anchor="start" font-weight="normal" fill="#1e1e1e" stroke-width="0.1">40 nM Plm-Lys<tspan dy="-3.13" font-size="5.51">311</tspan></text>
<text transform="translate(6.5,184) scale(1.07,1)" font-size="11.1" text-anchor="start" font-weight="bold" fill="#0a0a0a" stroke-width="0.1">D</text>
<text x="102.2" y="182.2" font-size="9.8" text-anchor="middle" font-weight="normal" fill="#1e1e1e" stroke-width="0.22">Kininogen cleavage</text>
<text x="102.2" y="193.9" font-size="9.8" text-anchor="middle" font-weight="normal" fill="#1e1e1e" stroke-width="0.22">by Plm-Lys<tspan dy="-4.12" font-size="7.25">311</tspan></text>
<line x1="38.5" y1="199.4" x2="38.5" y2="327.05" stroke="#1c1c1c" stroke-width="1.14"/>
<line x1="37.93" y1="326.5" x2="165.4" y2="326.5" stroke="#1c1c1c" stroke-width="1.1"/>
<line x1="35.1" y1="320.90" x2="38.5" y2="320.90" stroke="#1c1c1c" stroke-width="1.2"/>
<text transform="translate(33.8,324.0) scale(0.88,1)" font-size="8.7" text-anchor="end" font-weight="normal" fill="#1e1e1e" stroke-width="0.2">0</text>
<line x1="35.1" y1="295.27" x2="38.5" y2="295.27" stroke="#1c1c1c" stroke-width="1.2"/>
<text transform="translate(33.8,298.375) scale(0.88,1)" font-size="8.7" text-anchor="end" font-weight="normal" fill="#1e1e1e" stroke-width="0.2">10</text>
<line x1="35.1" y1="269.65" x2="38.5" y2="269.65" stroke="#1c1c1c" stroke-width="1.2"/>
<text transform="translate(33.8,272.75) scale(0.88,1)" font-size="8.7" text-anchor="end" font-weight="normal" fill="#1e1e1e" stroke-width="0.2">20</text>
<line x1="35.1" y1="244.02" x2="38.5" y2="244.02" stroke="#1c1c1c" stroke-width="1.2"/>
<text transform="translate(33.8,247.12499999999997) scale(0.88,1)" font-size="8.7" text-anchor="end" font-weight="normal" fill="#1e1e1e" stroke-width="0.2">30</text>
<line x1="35.1" y1="218.40" x2="38.5" y2="218.40" stroke="#1c1c1c" stroke-width="1.2"/>
<text transform="translate(33.8,221.49999999999997) scale(0.88,1)" font-size="8.7" text-anchor="end" font-weight="normal" fill="#1e1e1e" stroke-width="0.2">40</text>
<line x1="53.00" y1="326.5" x2="53.00" y2="329.9" stroke="#1c1c1c" stroke-width="1.2"/>
<text transform="translate(53.0,338.4) scale(0.88,1)" font-size="8.7" text-anchor="middle" font-weight="normal" fill="#1e1e1e" stroke-width="0.2">0</text>
<line x1="85.20" y1="326.5" x2="85.20" y2="329.9" stroke="#1c1c1c" stroke-width="1.2"/>
<text transform="translate(85.2,338.4) scale(0.88,1)" font-size="8.7" text-anchor="middle" font-weight="normal" fill="#1e1e1e" stroke-width="0.2">10</text>
<line x1="117.40" y1="326.5" x2="117.40" y2="329.9" stroke="#1c1c1c" stroke-width="1.2"/>
<text transform="translate(117.4,338.4) scale(0.88,1)" font-size="8.7" text-anchor="middle" font-weight="normal" fill="#1e1e1e" stroke-width="0.2">20</text>
<line x1="149.60" y1="326.5" x2="149.60" y2="329.9" stroke="#1c1c1c" stroke-width="1.2"/>
<text transform="translate(149.60000000000002,338.4) scale(0.88,1)" font-size="8.7" text-anchor="middle" font-weight="normal" fill="#1e1e1e" stroke-width="0.2">30</text>
<text transform="translate(14.6,262.4) rotate(-90) scale(0.9,1)" font-size="9" text-anchor="middle" font-weight="normal" fill="#1e1e1e" stroke-width="0.2">Bradykinin (nM)</text>
<path d="M53.00,317.72 L53.61,316.57 L54.22,315.47 L54.82,314.39 L55.43,313.33 L56.04,312.28 L56.65,311.25 L57.25,310.24 L57.86,309.23 L58.47,308.24 L59.08,307.26 L59.68,306.29 L60.29,305.33 L60.90,304.37 L61.51,303.43 L62.11,302.50 L62.72,301.57 L63.33,300.65 L63.94,299.74 L64.54,298.84 L65.15,297.95 L65.76,297.06 L66.37,296.18 L66.97,295.30 L67.58,294.44 L68.19,293.58 L68.80,292.72 L69.40,291.88 L70.01,291.03 L70.62,290.20 L71.23,289.37 L71.83,288.55 L72.44,287.73 L73.05,286.92 L73.66,286.11 L74.26,285.31 L74.87,284.52 L75.48,283.73 L76.09,282.94 L76.69,282.16 L77.30,281.39 L77.91,280.62 L78.52,279.86 L79.12,279.10 L79.73,278.34 L80.34,277.59 L80.95,276.85 L81.55,276.11 L82.16,275.38 L82.77,274.65 L83.38,273.92 L83.98,273.20 L84.59,272.48 L85.20,271.77 L85.81,271.06 L86.42,270.36 L87.02,269.66 L87.63,268.97 L88.24,268.28 L88.85,267.59 L89.45,266.91 L90.06,266.23 L90.67,265.56 L91.28,264.89 L91.88,264.23 L92.49,263.57 L93.10,262.91 L93.71,262.26 L94.31,261.61 L94.92,260.96 L95.53,260.32 L96.14,259.68 L96.74,259.05 L97.35,258.42 L97.96,257.79 L98.57,257.17 L99.17,256.55 L99.78,255.94 L100.39,255.33 L101.00,254.72 L101.60,254.12 L102.21,253.51 L102.82,252.92 L103.43,252.33 L104.03,251.74 L104.64,251.15 L105.25,250.57 L105.86,249.99 L106.46,249.41 L107.07,248.84 L107.68,248.27 L108.29,247.71 L108.89,247.14 L109.50,246.59 L110.11,246.03 L110.72,245.48 L111.32,244.93 L111.93,244.39 L112.54,243.84 L113.15,243.30 L113.75,242.77 L114.36,242.24 L114.97,241.71 L115.58,241.18 L116.18,240.66 L116.79,240.14 L117.40,239.62 L118.01,239.11 L118.62,238.60 L119.22,238.09 L119.83,237.59 L120.44,237.09 L121.05,236.59 L121.65,236.10 L122.26,235.60 L122.87,235.12 L123.48,234.63 L124.08,234.15 L124.69,233.67 L125.30,233.19 L125.91,232.72 L126.51,232.25 L127.12,231.78 L127.73,231.31 L128.34,230.85 L128.94,230.39 L129.55,229.94 L130.16,229.48 L130.77,229.03 L131.37,228.59 L131.98,228.14 L132.59,227.70 L133.20,227.26 L133.80,226.82 L134.41,226.39 L135.02,225.96 L135.63,225.53 L136.23,225.11 L136.84,224.68 L137.45,224.26 L138.06,223.85 L138.66,223.43 L139.27,223.02 L139.88,222.61 L140.49,222.21 L141.09,221.80 L141.70,221.40 L142.31,221.00 L142.92,220.61 L143.52,220.22 L144.13,219.83 L144.74,219.44 L145.35,219.05 L145.95,218.67 L146.56,218.29 L147.17,217.92 L147.78,217.54 L148.38,217.17 L148.99,216.80 L149.60,216.43" fill="none" stroke="#FF8C00" stroke-width="1.5" stroke-linejoin="round" stroke-linecap="round"/>
<path d="M53.00,319.66 L53.61,319.06 L54.22,318.75 L54.82,318.49 L55.43,318.25 L56.04,318.02 L56.65,317.81 L57.25,317.61 L57.86,317.41 L58.47,317.22 L59.08,317.04 L59.68,316.86 L60.29,316.68 L60.90,316.50 L61.51,316.33 L62.11,316.16 L62.72,316.00 L63.33,315.83 L63.94,315.67 L64.54,315.51 L65.15,315.35 L65.76,315.19 L66.37,315.04 L66.97,314.88 L67.58,314.73 L68.19,314.58 L68.80,314.43 L69.40,314.28 L70.01,314.13 L70.62,313.98 L71.23,313.83 L71.83,313.69 L72.44,313.54 L73.05,313.40 L73.66,313.26 L74.26,313.11 L74.87,312.97 L75.48,312.83 L76.09,312.69 L76.69,312.55 L77.30,312.41 L77.91,312.27 L78.52,312.13 L79.12,312.00 L79.73,311.86 L80.34,311.72 L80.95,311.59 L81.55,311.45 L82.16,311.32 L82.77,311.18 L83.38,311.05 L83.98,310.92 L84.59,310.78 L85.20,310.65 L85.81,310.52 L86.42,310.39 L87.02,310.26 L87.63,310.13 L88.24,310.00 L88.85,309.87 L89.45,309.74 L90.06,309.61 L90.67,309.48 L91.28,309.35 L91.88,309.22 L92.49,309.10 L93.10,308.97 L93.71,308.84 L94.31,308.71 L94.92,308.59 L95.53,308.46 L96.14,308.34 L96.74,308.21 L97.35,308.09 L97.96,307.96 L98.57,307.84 L99.17,307.71 L99.78,307.59 L100.39,307.47 L101.00,307.34 L101.60,307.22 L102.21,307.10 L102.82,306.97 L103.43,306.85 L104.03,306.73 L104.64,306.61 L105.25,306.49 L105.86,306.37 L106.46,306.25 L107.07,306.12 L107.68,306.00 L108.29,305.88 L108.89,305.76 L109.50,305.64 L110.11,305.52 L110.72,305.41 L111.32,305.29 L111.93,305.17 L112.54,305.05 L113.15,304.93 L113.75,304.81 L114.36,304.69 L114.97,304.58 L115.58,304.46 L116.18,304.34 L116.79,304.22 L117.40,304.11 L118.01,303.99 L118.62,303.87 L119.22,303.76 L119.83,303.64 L120.44,303.52 L121.05,303.41 L121.65,303.29 L122.26,303.18 L122.87,303.06 L123.48,302.95 L124.08,302.83 L124.69,302.72 L125.30,302.60 L125.91,302.49 L126.51,302.37 L127.12,302.26 L127.73,302.15 L128.34,302.03 L128.94,301.92 L129.55,301.81 L130.16,301.69 L130.77,301.58 L131.37,301.47 L131.98,301.35 L132.59,301.24 L133.20,301.13 L133.80,301.02 L134.41,300.91 L135.02,300.79 L135.63,300.68 L136.23,300.57 L136.84,300.46 L137.45,300.35 L138.06,300.24 L138.66,300.12 L139.27,300.01 L139.88,299.90 L140.49,299.79 L141.09,299.68 L141.70,299.57 L142.31,299.46 L142.92,299.35 L143.52,299.24 L144.13,299.13 L144.74,299.02 L145.35,298.91 L145.95,298.80 L146.56,298.69 L147.17,298.59 L147.78,298.48 L148.38,298.37 L148.99,298.26 L149.60,298.15" fill="none" stroke="#2DB84A" stroke-width="1.5" stroke-linejoin="round" stroke-linecap="round"/>
<path d="M53.00,320.64 V317.06 M48.60,320.64 H57.40 M48.60,317.06 H57.40" stroke="#2a2a2a" stroke-width="1.25" fill="none"/>
<path d="M53.00,320.26 V316.67 M48.60,320.26 H57.40 M48.60,316.67 H57.40" stroke="#2a2a2a" stroke-width="1.25" fill="none"/>
<path d="M61.05,317.82 V315.77 M56.65,317.82 H65.45 M56.65,315.77 H65.45" stroke="#2a2a2a" stroke-width="1.25" fill="none"/>
<path d="M69.10,315.01 V310.65 M64.70,315.01 H73.50 M64.70,310.65 H73.50" stroke="#2a2a2a" stroke-width="1.25" fill="none"/>
<path d="M85.20,311.67 V309.88 M80.80,311.67 H89.60 M80.80,309.88 H89.60" stroke="#2a2a2a" stroke-width="1.25" fill="none"/>
<path d="M117.40,304.76 V303.47 M113.00,304.76 H121.80 M113.00,303.47 H121.80" stroke="#2a2a2a" stroke-width="1.25" fill="none"/>
<path d="M149.60,301.68 V293.74 M145.20,301.68 H154.00 M145.20,293.74 H154.00" stroke="#2a2a2a" stroke-width="1.25" fill="none"/>
<circle cx="53.00" cy="319.62" r="2.4" fill="#2DB84A"/>
<circle cx="61.05" cy="316.80" r="2.4" fill="#2DB84A"/>
<circle cx="69.10" cy="312.96" r="2.4" fill="#2DB84A"/>
<circle cx="85.20" cy="310.65" r="2.4" fill="#2DB84A"/>
<circle cx="117.40" cy="304.24" r="2.4" fill="#2DB84A"/>
<circle cx="149.60" cy="298.09" r="2.4" fill="#2DB84A"/>
<path d="M61.05,305.01 V300.91 M56.65,305.01 H65.45 M56.65,300.91 H65.45" stroke="#2a2a2a" stroke-width="1.25" fill="none"/>
<path d="M69.10,293.48 V291.43 M64.70,293.48 H73.50 M64.70,291.43 H73.50" stroke="#2a2a2a" stroke-width="1.25" fill="none"/>
<path d="M85.20,275.80 V274.01 M80.80,275.80 H89.60 M80.80,274.01 H89.60" stroke="#2a2a2a" stroke-width="1.25" fill="none"/>
<path d="M117.40,242.74 V229.93 M113.00,242.74 H121.80 M113.00,229.93 H121.80" stroke="#2a2a2a" stroke-width="1.25" fill="none"/>
<path d="M149.60,229.42 V205.33 M145.20,229.42 H154.00 M145.20,205.33 H154.00" stroke="#2a2a2a" stroke-width="1.25" fill="none"/>
<circle cx="53.00" cy="318.08" r="2.4" fill="#FF8C00"/>
<circle cx="61.05" cy="302.96" r="2.4" fill="#FF8C00"/>
<circle cx="69.10" cy="292.46" r="2.4" fill="#FF8C00"/>
<circle cx="85.20" cy="275.03" r="2.4" fill="#FF8C00"/>
<circle cx="117.40" cy="236.59" r="2.4" fill="#FF8C00"/>
<circle cx="149.60" cy="217.38" r="2.4" fill="#FF8C00"/>
<circle cx="45.2" cy="207.3" r="2.4" fill="#2DB84A"/>
<text x="50.6" y="209.9" font-size="7.3" text-anchor="start" font-weight="normal" fill="#1e1e1e" stroke-width="0.1">HK + 40 nM Plm-Lys<tspan dy="-3.07" font-size="5.40">311</tspan></text>
<circle cx="45.2" cy="218.8" r="2.4" fill="#FF8C00"/>
<text x="50.6" y="221.4" font-size="7.3" text-anchor="start" font-weight="normal" fill="#1e1e1e" stroke-width="0.1">LK + 40 nM Plm-Lys<tspan dy="-3.07" font-size="5.40">311</tspan></text>
<text transform="translate(195.4,184) scale(1.07,1)" font-size="11.1" text-anchor="start" font-weight="bold" fill="#0a0a0a" stroke-width="0.1">E</text>
<text x="275.1" y="182.2" font-size="9.8" text-anchor="middle" font-weight="normal" fill="#1e1e1e" stroke-width="0.22">Kininogen cleavage</text>
<text x="275.3" y="193.9" font-size="9.8" text-anchor="middle" font-weight="normal" fill="#1e1e1e" stroke-width="0.22">by Plm-Glu<tspan dy="-4.12" font-size="7.25">311</tspan></text>
<line x1="210.9" y1="200.4" x2="210.9" y2="327.75" stroke="#1c1c1c" stroke-width="1.37"/>
<line x1="210.215" y1="327.0" x2="338.5" y2="327.0" stroke="#1c1c1c" stroke-width="1.5"/>
<line x1="207.5" y1="321.20" x2="210.9" y2="321.20" stroke="#1c1c1c" stroke-width="1.2"/>
<text transform="translate(206.20000000000002,324.3) scale(0.88,1)" font-size="8.7" text-anchor="end" font-weight="normal" fill="#1e1e1e" stroke-width="0.2">0</text>
<line x1="207.5" y1="284.30" x2="210.9" y2="284.30" stroke="#1c1c1c" stroke-width="1.2"/>
<text transform="translate(206.20000000000002,287.40000000000003) scale(0.88,1)" font-size="8.7" text-anchor="end" font-weight="normal" fill="#1e1e1e" stroke-width="0.2">30</text>
<line x1="207.5" y1="247.40" x2="210.9" y2="247.40" stroke="#1c1c1c" stroke-width="1.2"/>
<text transform="translate(206.20000000000002,250.49999999999997) scale(0.88,1)" font-size="8.7" text-anchor="end" font-weight="normal" fill="#1e1e1e" stroke-width="0.2">60</text>
<line x1="207.5" y1="210.50" x2="210.9" y2="210.50" stroke="#1c1c1c" stroke-width="1.2"/>
<text transform="translate(206.20000000000002,213.6) scale(0.88,1)" font-size="8.7" text-anchor="end" font-weight="normal" fill="#1e1e1e" stroke-width="0.2">90</text>
<line x1="225.70" y1="327.0" x2="225.70" y2="330.4" stroke="#1c1c1c" stroke-width="1.2"/>
<text transform="translate(225.7,338.59999999999997) scale(0.88,1)" font-size="8.7" text-anchor="middle" font-weight="normal" fill="#1e1e1e" stroke-width="0.2">0</text>
<line x1="257.90" y1="327.0" x2="257.90" y2="330.4" stroke="#1c1c1c" stroke-width="1.2"/>
<text transform="translate(257.9,338.59999999999997) scale(0.88,1)" font-size="8.7" text-anchor="middle" font-weight="normal" fill="#1e1e1e" stroke-width="0.2">10</text>
<line x1="290.10" y1="327.0" x2="290.10" y2="330.4" stroke="#1c1c1c" stroke-width="1.2"/>
<text transform="translate(290.1,338.59999999999997) scale(0.88,1)" font-size="8.7" text-anchor="middle" font-weight="normal" fill="#1e1e1e" stroke-width="0.2">20</text>
<line x1="322.30" y1="327.0" x2="322.30" y2="330.4" stroke="#1c1c1c" stroke-width="1.2"/>
<text transform="translate(322.3,338.59999999999997) scale(0.88,1)" font-size="8.7" text-anchor="middle" font-weight="normal" fill="#1e1e1e" stroke-width="0.2">30</text>
<path d="M225.70,321.20 L226.31,315.29 L226.92,311.87 L227.52,308.97 L228.13,306.36 L228.74,303.97 L229.35,301.74 L229.95,299.65 L230.56,297.67 L231.17,295.80 L231.78,294.01 L232.38,292.30 L232.99,290.66 L233.60,289.09 L234.21,287.58 L234.81,286.13 L235.42,284.72 L236.03,283.37 L236.64,282.07 L237.24,280.81 L237.85,279.59 L238.46,278.40 L239.07,277.26 L239.67,276.15 L240.28,275.08 L240.89,274.04 L241.50,273.03 L242.10,272.04 L242.71,271.07 L243.32,270.12 L243.93,269.17 L244.53,268.23 L245.14,267.29 L245.75,266.37 L246.36,265.45 L246.96,264.54 L247.57,263.63 L248.18,262.74 L248.79,261.84 L249.39,260.96 L250.00,260.08 L250.61,259.21 L251.22,258.34 L251.82,257.48 L252.43,256.63 L253.04,255.79 L253.65,254.95 L254.25,254.12 L254.86,253.30 L255.47,252.49 L256.08,251.69 L256.68,250.90 L257.29,250.11 L257.90,249.34 L258.51,248.58 L259.12,247.82 L259.72,247.08 L260.33,246.34 L260.94,245.62 L261.55,244.91 L262.15,244.21 L262.76,243.52 L263.37,242.84 L263.98,242.18 L264.58,241.52 L265.19,240.88 L265.80,240.24 L266.41,239.62 L267.01,239.01 L267.62,238.41 L268.23,237.82 L268.84,237.25 L269.44,236.68 L270.05,236.13 L270.66,235.58 L271.27,235.05 L271.87,234.53 L272.48,234.01 L273.09,233.51 L273.70,233.02 L274.30,232.54 L274.91,232.06 L275.52,231.60 L276.13,231.15 L276.73,230.70 L277.34,230.27 L277.95,229.84 L278.56,229.42 L279.16,229.01 L279.77,228.61 L280.38,228.21 L280.99,227.83 L281.59,227.45 L282.20,227.07 L282.81,226.71 L283.42,226.35 L284.02,226.00 L284.63,225.66 L285.24,225.32 L285.85,224.98 L286.45,224.66 L287.06,224.34 L287.67,224.02 L288.28,223.71 L288.88,223.41 L289.49,223.11 L290.10,222.81 L290.71,222.52 L291.32,222.23 L291.92,221.95 L292.53,221.67 L293.14,221.40 L293.75,221.13 L294.35,220.86 L294.96,220.60 L295.57,220.34 L296.18,220.08 L296.78,219.83 L297.39,219.58 L298.00,219.33 L298.61,219.08 L299.21,218.84 L299.82,218.60 L300.43,218.36 L301.04,218.12 L301.64,217.88 L302.25,217.65 L302.86,217.42 L303.47,217.19 L304.07,216.96 L304.68,216.73 L305.29,216.50 L305.90,216.27 L306.50,216.05 L307.11,215.82 L307.72,215.60 L308.33,215.37 L308.93,215.15 L309.54,214.93 L310.15,214.70 L310.76,214.48 L311.36,214.26 L311.97,214.03 L312.58,213.81 L313.19,213.59 L313.79,213.36 L314.40,213.14 L315.01,212.91 L315.62,212.68 L316.22,212.46 L316.83,212.23 L317.44,212.00 L318.05,211.77 L318.65,211.54 L319.26,211.30 L319.87,211.07 L320.48,210.83 L321.08,210.60 L321.69,210.36 L322.30,210.12" fill="none" stroke="#FF8C00" stroke-width="1.5" stroke-linejoin="round" stroke-linecap="round"/>
<path d="M225.70,321.20 L226.31,315.29 L226.92,311.87 L227.52,308.97 L228.13,306.36 L228.74,303.97 L229.35,301.74 L229.95,299.65 L230.56,297.67 L231.17,295.80 L231.78,294.01 L232.38,292.30 L232.99,290.66 L233.60,289.09 L234.21,287.58 L234.81,286.13 L235.42,284.72 L236.03,283.37 L236.64,282.07 L237.24,280.81 L237.85,279.59 L238.46,278.40 L239.07,277.26 L239.67,276.15 L240.28,275.08 L240.89,274.04 L241.50,273.03 L242.10,272.05 L242.71,271.09 L243.32,270.17 L243.93,269.27 L244.53,268.40 L245.14,267.55 L245.75,266.72 L246.36,265.92 L246.96,265.14 L247.57,264.38 L248.18,263.64 L248.79,262.92 L249.39,262.22 L250.00,261.54 L250.61,260.88 L251.22,260.23 L251.82,259.60 L252.43,258.99 L253.04,258.39 L253.65,257.81 L254.25,257.25 L254.86,256.69 L255.47,256.16 L256.08,255.63 L256.68,255.12 L257.29,254.62 L257.90,254.14 L258.51,253.66 L259.12,253.20 L259.72,252.75 L260.33,252.31 L260.94,251.88 L261.55,251.46 L262.15,251.06 L262.76,250.66 L263.37,250.27 L263.98,249.89 L264.58,249.52 L265.19,249.16 L265.80,248.81 L266.41,248.46 L267.01,248.13 L267.62,247.80 L268.23,247.48 L268.84,247.17 L269.44,246.86 L270.05,246.56 L270.66,246.27 L271.27,245.98 L271.87,245.70 L272.48,245.43 L273.09,245.16 L273.70,244.90 L274.30,244.64 L274.91,244.39 L275.52,244.15 L276.13,243.91 L276.73,243.67 L277.34,243.44 L277.95,243.21 L278.56,242.99 L279.16,242.77 L279.77,242.56 L280.38,242.35 L280.99,242.14 L281.59,241.94 L282.20,241.74 L282.81,241.55 L283.42,241.35 L284.02,241.17 L284.63,240.98 L285.24,240.80 L285.85,240.62 L286.45,240.44 L287.06,240.26 L287.67,240.09 L288.28,239.92 L288.88,239.75 L289.49,239.58 L290.10,239.42 L290.71,239.25 L291.32,239.09 L291.92,238.93 L292.53,238.77 L293.14,238.61 L293.75,238.46 L294.35,238.30 L294.96,238.15 L295.57,237.99 L296.18,237.84 L296.78,237.69 L297.39,237.54 L298.00,237.39 L298.61,237.23 L299.21,237.08 L299.82,236.93 L300.43,236.78 L301.04,236.63 L301.64,236.48 L302.25,236.33 L302.86,236.18 L303.47,236.03 L304.07,235.88 L304.68,235.73 L305.29,235.58 L305.90,235.43 L306.50,235.27 L307.11,235.12 L307.72,234.96 L308.33,234.81 L308.93,234.65 L309.54,234.49 L310.15,234.33 L310.76,234.17 L311.36,234.01 L311.97,233.85 L312.58,233.68 L313.19,233.52 L313.79,233.35 L314.40,233.18 L315.01,233.01 L315.62,232.83 L316.22,232.66 L316.83,232.48 L317.44,232.30 L318.05,232.12 L318.65,231.94 L319.26,231.75 L319.87,231.57 L320.48,231.38 L321.08,231.18 L321.69,230.99 L322.30,230.79" fill="none" stroke="#2DB84A" stroke-width="1.5" stroke-linejoin="round" stroke-linecap="round"/>
<path d="M257.90,252.32 V247.40 M253.50,252.32 H262.30 M253.50,247.40 H262.30" stroke="#2a2a2a" stroke-width="1.25" fill="none"/>
<path d="M290.10,226.49 V218.50 M285.70,226.49 H294.50 M285.70,218.50 H294.50" stroke="#2a2a2a" stroke-width="1.25" fill="none"/>
<path d="M322.30,215.42 V204.96 M317.90,215.42 H326.70 M317.90,204.96 H326.70" stroke="#2a2a2a" stroke-width="1.25" fill="none"/>
<circle cx="257.90" cy="249.98" r="2.4" fill="#FF8C00"/>
<circle cx="290.10" cy="222.55" r="2.4" fill="#FF8C00"/>
<circle cx="322.30" cy="210.01" r="2.4" fill="#FF8C00"/>
<path d="M225.70,321.81 V320.58 M221.30,321.81 H230.10 M221.30,320.58 H230.10" stroke="#2a2a2a" stroke-width="1.25" fill="none"/>
<path d="M233.75,290.94 V287.50 M229.35,290.94 H238.15 M229.35,287.50 H238.15" stroke="#2a2a2a" stroke-width="1.25" fill="none"/>
<path d="M241.80,273.84 V271.38 M237.40,273.84 H246.20 M237.40,271.38 H246.20" stroke="#2a2a2a" stroke-width="1.25" fill="none"/>
<path d="M257.90,258.47 V249.25 M253.50,258.47 H262.30 M253.50,249.25 H262.30" stroke="#2a2a2a" stroke-width="1.25" fill="none"/>
<path d="M290.10,244.94 V236.33 M285.70,244.94 H294.50 M285.70,236.33 H294.50" stroke="#2a2a2a" stroke-width="1.25" fill="none"/>
<path d="M322.30,232.64 V228.95 M317.90,232.64 H326.70 M317.90,228.95 H326.70" stroke="#2a2a2a" stroke-width="1.25" fill="none"/>
<circle cx="225.70" cy="321.20" r="2.4" fill="#2DB84A"/>
<circle cx="233.75" cy="288.73" r="2.4" fill="#2DB84A"/>
<circle cx="241.80" cy="272.49" r="2.4" fill="#2DB84A"/>
<circle cx="257.90" cy="253.80" r="2.4" fill="#2DB84A"/>
<circle cx="290.10" cy="240.02" r="2.4" fill="#2DB84A"/>
<circle cx="322.30" cy="230.79" r="2.4" fill="#2DB84A"/>
<circle cx="242.2" cy="306.2" r="2.4" fill="#2DB84A"/>
<text x="247.7" y="309.09999999999997" font-size="7.3" text-anchor="start" font-weight="normal" fill="#1e1e1e" stroke-width="0.1">HK + 40 nM Plm-Glu<tspan dy="-3.07" font-size="5.40">311</tspan></text>
<circle cx="242.2" cy="317.8" r="2.4" fill="#FF8C00"/>
<text x="247.7" y="320.7" font-size="7.3" text-anchor="start" font-weight="normal" fill="#1e1e1e" stroke-width="0.1">LK + 40 nM Plm-Glu<tspan dy="-3.07" font-size="5.40">311</tspan></text>
<text transform="translate(365.4,184) scale(1.07,1)" font-size="11.1" text-anchor="start" font-weight="bold" fill="#0a0a0a" stroke-width="0.1">F</text>
<text x="449" y="182.2" font-size="9.8" text-anchor="middle" font-weight="normal" fill="#1e1e1e" stroke-width="0.22">Kininogen cleavage</text>
<text x="449" y="193.9" font-size="9.8" text-anchor="middle" font-weight="normal" fill="#1e1e1e" stroke-width="0.22">by Plm-Glu<tspan dy="-4.12" font-size="7.25">311</tspan></text>
<line x1="385.39" y1="200.4" x2="385.39" y2="327.75" stroke="#1c1c1c" stroke-width="1.1"/>
<line x1="384.84" y1="327.0" x2="512" y2="327.0" stroke="#1c1c1c" stroke-width="1.5"/>
<line x1="381.99" y1="321.20" x2="385.39" y2="321.20" stroke="#1c1c1c" stroke-width="1.2"/>
<text transform="translate(380.4,324.3) scale(0.88,1)" font-size="8.7" text-anchor="end" font-weight="normal" fill="#1e1e1e" stroke-width="0.2">0</text>
<line x1="381.99" y1="282.30" x2="385.39" y2="282.30" stroke="#1c1c1c" stroke-width="1.2"/>
<text transform="translate(380.4,285.40000000000003) scale(0.88,1)" font-size="8.7" text-anchor="end" font-weight="normal" fill="#1e1e1e" stroke-width="0.2">10</text>
<line x1="381.99" y1="243.40" x2="385.39" y2="243.40" stroke="#1c1c1c" stroke-width="1.2"/>
<text transform="translate(380.4,246.49999999999997) scale(0.88,1)" font-size="8.7" text-anchor="end" font-weight="normal" fill="#1e1e1e" stroke-width="0.2">20</text>
<line x1="381.99" y1="204.50" x2="385.39" y2="204.50" stroke="#1c1c1c" stroke-width="1.2"/>
<text transform="translate(380.4,207.6) scale(0.88,1)" font-size="8.7" text-anchor="end" font-weight="normal" fill="#1e1e1e" stroke-width="0.2">30</text>
<line x1="400.60" y1="327.0" x2="400.60" y2="330.4" stroke="#1c1c1c" stroke-width="1.2"/>
<text transform="translate(400.6,338.59999999999997) scale(0.88,1)" font-size="8.7" text-anchor="middle" font-weight="normal" fill="#1e1e1e" stroke-width="0.2">0</text>
<line x1="419.96" y1="327.0" x2="419.96" y2="330.4" stroke="#1c1c1c" stroke-width="1.2"/>
<text transform="translate(419.96000000000004,338.59999999999997) scale(0.88,1)" font-size="8.7" text-anchor="middle" font-weight="normal" fill="#1e1e1e" stroke-width="0.2">2</text>
<line x1="439.32" y1="327.0" x2="439.32" y2="330.4" stroke="#1c1c1c" stroke-width="1.2"/>
<text transform="translate(439.32000000000005,338.59999999999997) scale(0.88,1)" font-size="8.7" text-anchor="middle" font-weight="normal" fill="#1e1e1e" stroke-width="0.2">4</text>
<line x1="458.68" y1="327.0" x2="458.68" y2="330.4" stroke="#1c1c1c" stroke-width="1.2"/>
<text transform="translate(458.68,338.59999999999997) scale(0.88,1)" font-size="8.7" text-anchor="middle" font-weight="normal" fill="#1e1e1e" stroke-width="0.2">6</text>
<line x1="478.04" y1="327.0" x2="478.04" y2="330.4" stroke="#1c1c1c" stroke-width="1.2"/>
<text transform="translate(478.04,338.59999999999997) scale(0.88,1)" font-size="8.7" text-anchor="middle" font-weight="normal" fill="#1e1e1e" stroke-width="0.2">8</text>
<line x1="497.40" y1="327.0" x2="497.40" y2="330.4" stroke="#1c1c1c" stroke-width="1.2"/>
<text transform="translate(497.40000000000003,338.59999999999997) scale(0.88,1)" font-size="8.7" text-anchor="middle" font-weight="normal" fill="#1e1e1e" stroke-width="0.2">10</text>
<defs><clipPath id="cf"><rect x="386" y="201.5" width="130" height="130"/></clipPath></defs>
<path d="M400.60,319.64 L400.78,315.35 L400.97,312.91 L401.15,310.88 L401.34,309.07 L401.52,307.42 L401.71,305.89 L401.89,304.44 L402.08,303.06 L402.26,301.74 L402.44,300.47 L402.63,299.24 L402.81,298.06 L403.00,296.90 L403.18,295.78 L403.37,294.69 L403.55,293.62 L403.74,292.57 L403.92,291.55 L404.10,290.54 L404.29,289.55 L404.47,288.58 L404.66,287.63 L404.84,286.69 L405.03,285.77 L405.21,284.86 L405.40,283.96 L405.58,283.07 L405.77,282.20 L405.95,281.33 L406.13,280.48 L406.32,279.64 L406.50,278.80 L406.69,277.98 L406.87,277.16 L407.06,276.35 L407.24,275.55 L407.43,274.76 L407.61,273.98 L407.79,273.20 L407.98,272.43 L408.16,271.66 L408.35,270.91 L408.53,270.16 L408.72,269.41 L408.90,268.67 L409.09,267.94 L409.27,267.21 L409.45,266.49 L409.64,265.77 L409.82,265.06 L410.01,264.35 L410.19,263.65 L410.38,262.95 L410.56,262.26 L410.75,261.57 L410.93,260.89 L411.11,260.21 L411.30,259.53 L411.48,258.86 L411.67,258.19 L411.85,257.53 L412.04,256.87 L412.22,256.21 L412.41,255.56 L412.59,254.91 L412.77,254.26 L412.96,253.62 L413.14,252.98 L413.33,252.35 L413.51,251.71 L413.70,251.08 L413.88,250.46 L414.07,249.84 L414.25,249.22 L414.44,248.60 L414.62,247.98 L414.80,247.37 L414.99,246.76 L415.17,246.16 L415.36,245.55 L415.54,244.95 L415.73,244.36 L415.91,243.76 L416.10,243.17 L416.28,242.58 L416.46,241.99 L416.65,241.40 L416.83,240.82 L417.02,240.24 L417.20,239.66 L417.39,239.08 L417.57,238.51 L417.76,237.94 L417.94,237.37 L418.12,236.80 L418.31,236.23 L418.49,235.67 L418.68,235.11 L418.86,234.55 L419.05,233.99 L419.23,233.43 L419.42,232.88 L419.60,232.33 L419.78,231.78 L419.97,231.23 L420.15,230.68 L420.34,230.14 L420.52,229.60 L420.71,229.06 L420.89,228.52 L421.08,227.98 L421.26,227.44 L421.44,226.91 L421.63,226.38 L421.81,225.84 L422.00,225.31 L422.18,224.79 L422.37,224.26 L422.55,223.74 L422.74,223.21 L422.92,222.69 L423.11,222.17 L423.29,221.65 L423.47,221.14 L423.66,220.62 L423.84,220.11 L424.03,219.59 L424.21,219.08 L424.40,218.57 L424.58,218.06 L424.77,217.56 L424.95,217.05 L425.13,216.55 L425.32,216.04 L425.50,215.54 L425.69,215.04 L425.87,214.54 L426.06,214.04 L426.24,213.55 L426.43,213.05 L426.61,212.56 L426.79,212.06 L426.98,211.57 L427.16,211.08 L427.35,210.59 L427.53,210.10 L427.72,209.62 L427.90,209.13 L428.09,208.65 L428.27,208.16 L428.45,207.68 L428.64,207.20 L428.82,206.72 L429.01,206.24 L429.19,205.76 L429.38,205.28 L429.56,204.81 L429.75,204.33 L429.93,203.86" fill="none" stroke="#CB0F34" stroke-width="1.5" stroke-linejoin="round" stroke-linecap="round"/>
<path d="M400.60,319.25 L401.21,316.35 L401.82,313.71 L402.43,311.30 L403.04,309.09 L403.64,307.06 L404.25,305.18 L404.86,303.45 L405.47,301.84 L406.08,300.34 L406.69,298.94 L407.30,297.63 L407.91,296.41 L408.51,295.26 L409.12,294.18 L409.73,293.15 L410.34,292.19 L410.95,291.28 L411.56,290.42 L412.17,289.60 L412.78,288.82 L413.38,288.08 L413.99,287.37 L414.60,286.70 L415.21,286.06 L415.82,285.45 L416.43,284.86 L417.04,284.30 L417.65,283.76 L418.26,283.25 L418.86,282.75 L419.47,282.28 L420.08,281.82 L420.69,281.38 L421.30,280.96 L421.91,280.55 L422.52,280.16 L423.13,279.78 L423.73,279.41 L424.34,279.06 L424.95,278.71 L425.56,278.38 L426.17,278.06 L426.78,277.75 L427.39,277.45 L428.00,277.16 L428.61,276.88 L429.21,276.61 L429.82,276.34 L430.43,276.08 L431.04,275.83 L431.65,275.59 L432.26,275.35 L432.87,275.12 L433.48,274.90 L434.08,274.68 L434.69,274.47 L435.30,274.26 L435.91,274.06 L436.52,273.86 L437.13,273.67 L437.74,273.48 L438.35,273.30 L438.95,273.12 L439.56,272.95 L440.17,272.78 L440.78,272.62 L441.39,272.45 L442.00,272.30 L442.61,272.14 L443.22,271.99 L443.83,271.84 L444.43,271.70 L445.04,271.56 L445.65,271.42 L446.26,271.28 L446.87,271.15 L447.48,271.02 L448.09,270.89 L448.70,270.77 L449.30,270.65 L449.91,270.53 L450.52,270.41 L451.13,270.29 L451.74,270.18 L452.35,270.07 L452.96,269.96 L453.57,269.86 L454.17,269.75 L454.78,269.65 L455.39,269.55 L456.00,269.45 L456.61,269.35 L457.22,269.26 L457.83,269.16 L458.44,269.07 L459.05,268.98 L459.65,268.89 L460.26,268.80 L460.87,268.72 L461.48,268.63 L462.09,268.55 L462.70,268.47 L463.31,268.39 L463.92,268.31 L464.52,268.23 L465.13,268.15 L465.74,268.08 L466.35,268.00 L466.96,267.93 L467.57,267.86 L468.18,267.79 L468.79,267.72 L469.39,267.65 L470.00,267.58 L470.61,267.51 L471.22,267.45 L471.83,267.38 L472.44,267.32 L473.05,267.26 L473.66,267.19 L474.27,267.13 L474.87,267.07 L475.48,267.01 L476.09,266.95 L476.70,266.90 L477.31,266.84 L477.92,266.78 L478.53,266.73 L479.14,266.67 L479.74,266.62 L480.35,266.56 L480.96,266.51 L481.57,266.46 L482.18,266.41 L482.79,266.36 L483.40,266.31 L484.01,266.26 L484.62,266.21 L485.22,266.16 L485.83,266.11 L486.44,266.07 L487.05,266.02 L487.66,265.98 L488.27,265.93 L488.88,265.89 L489.49,265.84 L490.09,265.80 L490.70,265.76 L491.31,265.71 L491.92,265.67 L492.53,265.63 L493.14,265.59 L493.75,265.55 L494.36,265.51 L494.96,265.47 L495.57,265.43 L496.18,265.39 L496.79,265.35 L497.40,265.31" fill="none" stroke="#EC0A8C" stroke-width="1.5" stroke-linejoin="round" stroke-linecap="round"/>
<path d="M400.60,319.25 L401.21,316.82 L401.82,314.68 L402.43,312.78 L403.04,311.10 L403.64,309.59 L404.25,308.22 L404.86,306.99 L405.47,305.86 L406.08,304.84 L406.69,303.89 L407.30,303.02 L407.91,302.22 L408.51,301.48 L409.12,300.79 L409.73,300.14 L410.34,299.54 L410.95,298.98 L411.56,298.45 L412.17,297.95 L412.78,297.49 L413.38,297.05 L413.99,296.63 L414.60,296.23 L415.21,295.86 L415.82,295.51 L416.43,295.17 L417.04,294.85 L417.65,294.54 L418.26,294.25 L418.86,293.97 L419.47,293.71 L420.08,293.45 L420.69,293.21 L421.30,292.97 L421.91,292.75 L422.52,292.53 L423.13,292.33 L423.73,292.13 L424.34,291.94 L424.95,291.75 L425.56,291.57 L426.17,291.40 L426.78,291.24 L427.39,291.08 L428.00,290.92 L428.61,290.77 L429.21,290.63 L429.82,290.49 L430.43,290.35 L431.04,290.22 L431.65,290.09 L432.26,289.97 L432.87,289.85 L433.48,289.73 L434.08,289.62 L434.69,289.51 L435.30,289.40 L435.91,289.30 L436.52,289.20 L437.13,289.10 L437.74,289.01 L438.35,288.91 L438.95,288.82 L439.56,288.74 L440.17,288.65 L440.78,288.57 L441.39,288.48 L442.00,288.40 L442.61,288.33 L443.22,288.25 L443.83,288.18 L444.43,288.10 L445.04,288.03 L445.65,287.96 L446.26,287.89 L446.87,287.83 L447.48,287.76 L448.09,287.70 L448.70,287.64 L449.30,287.58 L449.91,287.52 L450.52,287.46 L451.13,287.40 L451.74,287.35 L452.35,287.29 L452.96,287.24 L453.57,287.19 L454.17,287.13 L454.78,287.08 L455.39,287.03 L456.00,286.99 L456.61,286.94 L457.22,286.89 L457.83,286.84 L458.44,286.80 L459.05,286.76 L459.65,286.71 L460.26,286.67 L460.87,286.63 L461.48,286.59 L462.09,286.55 L462.70,286.51 L463.31,286.47 L463.92,286.43 L464.52,286.39 L465.13,286.35 L465.74,286.32 L466.35,286.28 L466.96,286.24 L467.57,286.21 L468.18,286.18 L468.79,286.14 L469.39,286.11 L470.00,286.08 L470.61,286.04 L471.22,286.01 L471.83,285.98 L472.44,285.95 L473.05,285.92 L473.66,285.89 L474.27,285.86 L474.87,285.83 L475.48,285.80 L476.09,285.77 L476.70,285.75 L477.31,285.72 L477.92,285.69 L478.53,285.67 L479.14,285.64 L479.74,285.61 L480.35,285.59 L480.96,285.56 L481.57,285.54 L482.18,285.51 L482.79,285.49 L483.40,285.47 L484.01,285.44 L484.62,285.42 L485.22,285.40 L485.83,285.37 L486.44,285.35 L487.05,285.33 L487.66,285.31 L488.27,285.29 L488.88,285.27 L489.49,285.24 L490.09,285.22 L490.70,285.20 L491.31,285.18 L491.92,285.16 L492.53,285.14 L493.14,285.12 L493.75,285.11 L494.36,285.09 L494.96,285.07 L495.57,285.05 L496.18,285.03 L496.79,285.01 L497.40,284.99" fill="none" stroke="#551F74" stroke-width="1.5" stroke-linejoin="round" stroke-linecap="round"/>
<path d="M400.60,320.07 L401.21,319.48 L401.82,319.20 L402.43,318.98 L403.04,318.79 L403.64,318.61 L404.25,318.45 L404.86,318.29 L405.47,318.15 L406.08,318.00 L406.69,317.87 L407.30,317.74 L407.91,317.61 L408.51,317.48 L409.12,317.36 L409.73,317.24 L410.34,317.12 L410.95,317.01 L411.56,316.89 L412.17,316.78 L412.78,316.67 L413.38,316.56 L413.99,316.46 L414.60,316.35 L415.21,316.25 L415.82,316.15 L416.43,316.04 L417.04,315.94 L417.65,315.84 L418.26,315.74 L418.86,315.64 L419.47,315.55 L420.08,315.45 L420.69,315.35 L421.30,315.26 L421.91,315.16 L422.52,315.07 L423.13,314.98 L423.73,314.89 L424.34,314.79 L424.95,314.70 L425.56,314.61 L426.17,314.52 L426.78,314.43 L427.39,314.34 L428.00,314.25 L428.61,314.16 L429.21,314.08 L429.82,313.99 L430.43,313.90 L431.04,313.81 L431.65,313.73 L432.26,313.64 L432.87,313.56 L433.48,313.47 L434.08,313.39 L434.69,313.30 L435.30,313.22 L435.91,313.13 L436.52,313.05 L437.13,312.97 L437.74,312.88 L438.35,312.80 L438.95,312.72 L439.56,312.63 L440.17,312.55 L440.78,312.47 L441.39,312.39 L442.00,312.31 L442.61,312.23 L443.22,312.15 L443.83,312.07 L444.43,311.99 L445.04,311.90 L445.65,311.83 L446.26,311.75 L446.87,311.67 L447.48,311.59 L448.09,311.51 L448.70,311.43 L449.30,311.35 L449.91,311.27 L450.52,311.19 L451.13,311.12 L451.74,311.04 L452.35,310.96 L452.96,310.88 L453.57,310.80 L454.17,310.73 L454.78,310.65 L455.39,310.57 L456.00,310.50 L456.61,310.42 L457.22,310.34 L457.83,310.27 L458.44,310.19 L459.05,310.11 L459.65,310.04 L460.26,309.96 L460.87,309.89 L461.48,309.81 L462.09,309.74 L462.70,309.66 L463.31,309.59 L463.92,309.51 L464.52,309.44 L465.13,309.36 L465.74,309.29 L466.35,309.21 L466.96,309.14 L467.57,309.07 L468.18,308.99 L468.79,308.92 L469.39,308.84 L470.00,308.77 L470.61,308.70 L471.22,308.62 L471.83,308.55 L472.44,308.48 L473.05,308.40 L473.66,308.33 L474.27,308.26 L474.87,308.18 L475.48,308.11 L476.09,308.04 L476.70,307.97 L477.31,307.89 L477.92,307.82 L478.53,307.75 L479.14,307.68 L479.74,307.60 L480.35,307.53 L480.96,307.46 L481.57,307.39 L482.18,307.32 L482.79,307.25 L483.40,307.17 L484.01,307.10 L484.62,307.03 L485.22,306.96 L485.83,306.89 L486.44,306.82 L487.05,306.75 L487.66,306.68 L488.27,306.61 L488.88,306.53 L489.49,306.46 L490.09,306.39 L490.70,306.32 L491.31,306.25 L491.92,306.18 L492.53,306.11 L493.14,306.04 L493.75,305.97 L494.36,305.90 L494.96,305.83 L495.57,305.76 L496.18,305.69 L496.79,305.62 L497.40,305.55" fill="none" stroke="#12529A" stroke-width="1.5" stroke-linejoin="round" stroke-linecap="round"/>
<path d="M424.80,222.78 V212.28 M420.40,222.78 H429.20 M420.40,212.28 H429.20" stroke="#2a2a2a" stroke-width="1.25" fill="none"/>
<circle cx="400.60" cy="319.64" r="2.4" fill="#CB0F34"/>
<circle cx="424.80" cy="217.73" r="2.4" fill="#CB0F34"/>
<path d="M424.80,279.97 V276.85 M420.40,279.97 H429.20 M420.40,276.85 H429.20" stroke="#2a2a2a" stroke-width="1.25" fill="none"/>
<path d="M449.00,272.19 V270.24 M444.60,272.19 H453.40 M444.60,270.24 H453.40" stroke="#2a2a2a" stroke-width="1.25" fill="none"/>
<path d="M497.40,273.74 V264.41 M493.00,273.74 H501.80 M493.00,264.41 H501.80" stroke="#2a2a2a" stroke-width="1.25" fill="none"/>
<circle cx="424.80" cy="278.41" r="2.4" fill="#EC0A8C"/>
<circle cx="449.00" cy="271.02" r="2.4" fill="#EC0A8C"/>
<circle cx="497.40" cy="268.69" r="2.4" fill="#EC0A8C"/>
<path d="M424.80,292.80 V291.25 M420.40,292.80 H429.20 M420.40,291.25 H429.20" stroke="#2a2a2a" stroke-width="1.25" fill="none"/>
<path d="M449.00,291.25 V287.36 M444.60,291.25 H453.40 M444.60,287.36 H453.40" stroke="#2a2a2a" stroke-width="1.25" fill="none"/>
<path d="M497.40,285.41 V276.85 M493.00,285.41 H501.80 M493.00,276.85 H501.80" stroke="#2a2a2a" stroke-width="1.25" fill="none"/>
<circle cx="424.80" cy="292.02" r="2.4" fill="#551F74"/>
<circle cx="449.00" cy="289.30" r="2.4" fill="#551F74"/>
<circle cx="497.40" cy="281.52" r="2.4" fill="#551F74"/>
<path d="M400.60,321.98 V317.89 M396.20,321.98 H405.00 M396.20,317.89 H405.00" stroke="#2a2a2a" stroke-width="1.25" fill="none"/>
<path d="M400.60,321.39 V318.48 M396.20,321.39 H405.00 M396.20,318.48 H405.00" stroke="#2a2a2a" stroke-width="1.25" fill="none"/>
<path d="M424.80,315.75 V314.20 M420.40,315.75 H429.20 M420.40,314.20 H429.20" stroke="#2a2a2a" stroke-width="1.25" fill="none"/>
<path d="M449.00,310.70 V306.03 M444.60,310.70 H453.40 M444.60,306.03 H453.40" stroke="#2a2a2a" stroke-width="1.25" fill="none"/>
<path d="M497.40,307.20 V304.86 M493.00,307.20 H501.80 M493.00,304.86 H501.80" stroke="#2a2a2a" stroke-width="1.25" fill="none"/>
<circle cx="400.60" cy="319.64" r="2.4" fill="#12529A"/>
<circle cx="424.80" cy="314.98" r="2.4" fill="#12529A"/>
<circle cx="449.00" cy="309.14" r="2.4" fill="#12529A"/>
<circle cx="497.40" cy="306.42" r="2.4" fill="#12529A"/>
<circle cx="440.4" cy="212" r="2.4" fill="#CB0F34"/>
<text x="446.4" y="214.6" font-size="7.45" text-anchor="start" font-weight="normal" fill="#1e1e1e" stroke-width="0.1">40 nM Plm-Glu<tspan dy="-3.13" font-size="5.51">311</tspan></text>
<circle cx="440.4" cy="223.2" r="2.4" fill="#EC0A8C"/>
<text x="446.4" y="225.79999999999998" font-size="7.45" text-anchor="start" font-weight="normal" fill="#1e1e1e" stroke-width="0.1">20 nM Plm-Glu<tspan dy="-3.13" font-size="5.51">311</tspan></text>
<circle cx="440.4" cy="234.4" r="2.4" fill="#551F74"/>
<text x="446.4" y="237.0" font-size="7.45" text-anchor="start" font-weight="normal" fill="#1e1e1e" stroke-width="0.1">10 nM Plm-Glu<tspan dy="-3.13" font-size="5.51">311</tspan></text>
<circle cx="440.4" cy="245.6" r="2.4" fill="#12529A"/>
<text x="446.4" y="248.2" font-size="7.45" text-anchor="start" font-weight="normal" fill="#1e1e1e" stroke-width="0.1">40 nM Plm-Lys<tspan dy="-3.13" font-size="5.51">311</tspan></text>
<text transform="translate(448.3,352) scale(0.88,1)" font-size="9" text-anchor="middle" font-weight="normal" fill="#1e1e1e" stroke-width="0.2">Time (min)</text>
<text transform="translate(6.5,374.4) scale(1.07,1)" font-size="11.1" text-anchor="start" font-weight="bold" fill="#0a0a0a" stroke-width="0.1">G</text>
<text x="101.5" y="372.5" font-size="9.8" text-anchor="middle" font-weight="normal" fill="#1e1e1e" stroke-width="0.22">Kininogen cleavage in</text>
<text x="101.5" y="384.2" font-size="9.8" text-anchor="middle" font-weight="normal" fill="#1e1e1e" stroke-width="0.22">plasma by Plg-Glu<tspan dy="-4.12" font-size="7.25">311</tspan></text>
<line x1="38.0" y1="390.4" x2="38.0" y2="518.05" stroke="#1c1c1c" stroke-width="1.48"/>
<line x1="37.26" y1="517.5" x2="160.9" y2="517.5" stroke="#1c1c1c" stroke-width="1.1"/>
<line x1="34.6" y1="512.00" x2="38.0" y2="512.00" stroke="#1c1c1c" stroke-width="1.2"/>
<text transform="translate(33.4,515.1) scale(0.88,1)" font-size="8.7" text-anchor="end" font-weight="normal" fill="#1e1e1e" stroke-width="0.2">0</text>
<line x1="34.6" y1="482.82" x2="38.0" y2="482.82" stroke="#1c1c1c" stroke-width="1.2"/>
<text transform="translate(33.4,485.925) scale(0.88,1)" font-size="8.7" text-anchor="end" font-weight="normal" fill="#1e1e1e" stroke-width="0.2">25</text>
<line x1="34.6" y1="453.65" x2="38.0" y2="453.65" stroke="#1c1c1c" stroke-width="1.2"/>
<text transform="translate(33.4,456.75) scale(0.88,1)" font-size="8.7" text-anchor="end" font-weight="normal" fill="#1e1e1e" stroke-width="0.2">50</text>
<line x1="34.6" y1="424.48" x2="38.0" y2="424.48" stroke="#1c1c1c" stroke-width="1.2"/>
<text transform="translate(33.4,427.57500000000005) scale(0.88,1)" font-size="8.7" text-anchor="end" font-weight="normal" fill="#1e1e1e" stroke-width="0.2">75</text>
<line x1="34.6" y1="395.30" x2="38.0" y2="395.30" stroke="#1c1c1c" stroke-width="1.2"/>
<text transform="translate(33.4,398.40000000000003) scale(0.88,1)" font-size="8.7" text-anchor="end" font-weight="normal" fill="#1e1e1e" stroke-width="0.2">100</text>
<line x1="50.10" y1="517.5" x2="50.10" y2="520.9" stroke="#1c1c1c" stroke-width="1.2"/>
<text transform="translate(50.1,529.1999999999999) scale(0.88,1)" font-size="8.7" text-anchor="middle" font-weight="normal" fill="#1e1e1e" stroke-width="0.2">0</text>
<line x1="75.90" y1="517.5" x2="75.90" y2="520.9" stroke="#1c1c1c" stroke-width="1.2"/>
<text transform="translate(75.9,529.1999999999999) scale(0.88,1)" font-size="8.7" text-anchor="middle" font-weight="normal" fill="#1e1e1e" stroke-width="0.2">4</text>
<line x1="101.70" y1="517.5" x2="101.70" y2="520.9" stroke="#1c1c1c" stroke-width="1.2"/>
<text transform="translate(101.7,529.1999999999999) scale(0.88,1)" font-size="8.7" text-anchor="middle" font-weight="normal" fill="#1e1e1e" stroke-width="0.2">8</text>
<line x1="127.50" y1="517.5" x2="127.50" y2="520.9" stroke="#1c1c1c" stroke-width="1.2"/>
<text transform="translate(127.5,529.1999999999999) scale(0.88,1)" font-size="8.7" text-anchor="middle" font-weight="normal" fill="#1e1e1e" stroke-width="0.2">12</text>
<line x1="153.30" y1="517.5" x2="153.30" y2="520.9" stroke="#1c1c1c" stroke-width="1.2"/>
<text transform="translate(153.3,529.1999999999999) scale(0.88,1)" font-size="8.7" text-anchor="middle" font-weight="normal" fill="#1e1e1e" stroke-width="0.2">16</text>
<text transform="translate(14.6,453.3) rotate(-90) scale(0.9,1)" font-size="9" text-anchor="middle" font-weight="normal" fill="#1e1e1e" stroke-width="0.2">Bradykinin (nM)</text>
<text transform="translate(100.5,543) scale(0.88,1)" font-size="9" text-anchor="middle" font-weight="normal" fill="#1e1e1e" stroke-width="0.2">Time (min)</text>
<path d="M50.10,511.65 L50.75,511.61 L51.40,511.50 L52.05,511.33 L52.70,511.12 L53.35,510.87 L53.99,510.61 L54.64,510.33 L55.29,509.98 L55.94,509.55 L56.59,509.03 L57.24,508.44 L57.89,507.75 L58.54,506.97 L59.19,506.08 L59.84,504.79 L60.48,502.98 L61.13,500.81 L61.78,498.43 L62.43,495.98 L63.08,493.62 L63.73,491.17 L64.38,488.52 L65.03,485.73 L65.68,482.87 L66.33,480.02 L66.98,477.23 L67.62,474.58 L68.27,472.14 L68.92,469.96 L69.57,467.93 L70.22,465.97 L70.87,464.07 L71.52,462.24 L72.17,460.48 L72.82,458.80 L73.47,457.19 L74.12,455.66 L74.76,454.22 L75.41,452.86 L76.06,451.59 L76.71,450.38 L77.36,449.21 L78.01,448.09 L78.66,447.03 L79.31,446.02 L79.96,445.05 L80.61,444.15 L81.25,443.29 L81.90,442.50 L82.55,441.75 L83.20,441.05 L83.85,440.40 L84.50,439.80 L85.15,439.26 L85.80,438.78 L86.45,438.36 L87.10,437.95 L87.75,437.56 L88.39,437.20 L89.04,436.85 L89.69,436.52 L90.34,436.21 L90.99,435.93 L91.64,435.67 L92.29,435.43 L92.94,435.21 L93.59,435.01 L94.24,434.83 L94.88,434.64 L95.53,434.47 L96.18,434.30 L96.83,434.14 L97.48,433.98 L98.13,433.85 L98.78,433.72 L99.43,433.61 L100.08,433.51 L100.73,433.43 L101.38,433.37 L102.02,433.32 L102.67,433.28 L103.32,433.24 L103.97,433.21 L104.62,433.17 L105.27,433.14 L105.92,433.10 L106.57,433.07 L107.22,433.04 L107.87,433.02 L108.52,432.99 L109.16,432.97 L109.81,432.95 L110.46,432.93 L111.11,432.92 L111.76,432.90 L112.41,432.89 L113.06,432.89 L113.71,432.88 L114.36,432.88 L115.01,432.88 L115.65,432.88 L116.30,432.88 L116.95,432.88 L117.60,432.88 L118.25,432.88 L118.90,432.88 L119.55,432.88 L120.20,432.88 L120.85,432.88 L121.50,432.88 L122.15,432.88 L122.79,432.88 L123.44,432.88 L124.09,432.88 L124.74,432.88 L125.39,432.88 L126.04,432.88 L126.69,432.88 L127.34,432.88 L127.99,432.88 L128.64,432.88 L129.28,432.88 L129.93,432.88 L130.58,432.88 L131.23,432.88 L131.88,432.88 L132.53,432.88 L133.18,432.88 L133.83,432.88 L134.48,432.88 L135.13,432.88 L135.78,432.88 L136.42,432.88 L137.07,432.88 L137.72,432.88 L138.37,432.88 L139.02,432.88 L139.67,432.88 L140.32,432.88 L140.97,432.88 L141.62,432.88 L142.27,432.88 L142.92,432.88 L143.56,432.88 L144.21,432.88 L144.86,432.88 L145.51,432.88 L146.16,432.88 L146.81,432.88 L147.46,432.88 L148.11,432.88 L148.76,432.88 L149.41,432.88 L150.05,432.88 L150.70,432.88 L151.35,432.88 L152.00,432.88 L152.65,432.88 L153.30,432.88" fill="none" stroke="#CB0F34" stroke-width="1.5" stroke-linejoin="round" stroke-linecap="round"/>
<path d="M50.10,511.65 L50.75,511.60 L51.40,511.51 L52.05,511.38 L52.70,511.22 L53.35,511.02 L53.99,510.80 L54.64,510.56 L55.29,510.31 L55.94,510.04 L56.59,509.77 L57.24,509.43 L57.89,509.01 L58.54,508.52 L59.19,507.98 L59.84,507.40 L60.48,506.81 L61.13,506.21 L61.78,505.63 L62.43,505.08 L63.08,504.59 L63.73,504.14 L64.38,503.71 L65.03,503.29 L65.68,502.89 L66.33,502.48 L66.98,502.08 L67.62,501.65 L68.27,501.21 L68.92,500.74 L69.57,500.23 L70.22,499.71 L70.87,499.19 L71.52,498.65 L72.17,498.08 L72.82,497.48 L73.47,496.84 L74.12,496.15 L74.76,495.40 L75.41,494.58 L76.06,493.67 L76.71,492.58 L77.36,491.28 L78.01,489.81 L78.66,488.20 L79.31,486.49 L79.96,484.71 L80.61,482.91 L81.25,481.10 L81.90,479.33 L82.55,477.63 L83.20,475.88 L83.85,474.07 L84.50,472.27 L85.15,470.51 L85.80,468.84 L86.45,467.24 L87.10,465.69 L87.75,464.16 L88.39,462.65 L89.04,461.15 L89.69,459.62 L90.34,458.06 L90.99,456.44 L91.64,454.80 L92.29,453.16 L92.94,451.53 L93.59,449.96 L94.24,448.45 L94.88,447.04 L95.53,445.74 L96.18,444.49 L96.83,443.28 L97.48,442.12 L98.13,440.99 L98.78,439.90 L99.43,438.86 L100.08,437.86 L100.73,436.91 L101.38,436.00 L102.02,435.13 L102.67,434.30 L103.32,433.50 L103.97,432.72 L104.62,431.98 L105.27,431.26 L105.92,430.57 L106.57,429.92 L107.22,429.29 L107.87,428.69 L108.52,428.13 L109.16,427.58 L109.81,427.06 L110.46,426.55 L111.11,426.07 L111.76,425.60 L112.41,425.15 L113.06,424.72 L113.71,424.31 L114.36,423.92 L115.01,423.54 L115.65,423.17 L116.30,422.82 L116.95,422.47 L117.60,422.14 L118.25,421.83 L118.90,421.52 L119.55,421.23 L120.20,420.96 L120.85,420.70 L121.50,420.46 L122.15,420.23 L122.79,420.00 L123.44,419.79 L124.09,419.59 L124.74,419.39 L125.39,419.21 L126.04,419.02 L126.69,418.85 L127.34,418.68 L127.99,418.52 L128.64,418.36 L129.28,418.20 L129.93,418.05 L130.58,417.91 L131.23,417.77 L131.88,417.63 L132.53,417.50 L133.18,417.38 L133.83,417.26 L134.48,417.15 L135.13,417.04 L135.78,416.93 L136.42,416.83 L137.07,416.73 L137.72,416.63 L138.37,416.54 L139.02,416.46 L139.67,416.38 L140.32,416.31 L140.97,416.25 L141.62,416.19 L142.27,416.12 L142.92,416.06 L143.56,416.00 L144.21,415.94 L144.86,415.88 L145.51,415.83 L146.16,415.77 L146.81,415.72 L147.46,415.67 L148.11,415.62 L148.76,415.58 L149.41,415.54 L150.05,415.50 L150.70,415.47 L151.35,415.44 L152.00,415.41 L152.65,415.39 L153.30,415.37" fill="none" stroke="#0B6E4F" stroke-width="1.5" stroke-linejoin="round" stroke-linecap="round"/>
<path d="M50.10,511.77 L50.75,511.76 L51.40,511.76 L52.05,511.75 L52.70,511.74 L53.35,511.73 L53.99,511.71 L54.64,511.68 L55.29,511.66 L55.94,511.63 L56.59,511.60 L57.24,511.56 L57.89,511.52 L58.54,511.48 L59.19,511.43 L59.84,511.38 L60.48,511.32 L61.13,511.26 L61.78,511.20 L62.43,511.13 L63.08,511.06 L63.73,510.88 L64.38,510.56 L65.03,510.12 L65.68,509.58 L66.33,508.96 L66.98,508.28 L67.62,507.57 L68.27,506.85 L68.92,506.14 L69.57,505.46 L70.22,504.74 L70.87,503.96 L71.52,503.13 L72.17,502.27 L72.82,501.38 L73.47,500.49 L74.12,499.60 L74.76,498.73 L75.41,497.89 L76.06,497.10 L76.71,496.33 L77.36,495.56 L78.01,494.80 L78.66,494.04 L79.31,493.30 L79.96,492.58 L80.61,491.87 L81.25,491.18 L81.90,490.51 L82.55,489.86 L83.20,489.23 L83.85,488.63 L84.50,488.03 L85.15,487.45 L85.80,486.89 L86.45,486.33 L87.10,485.77 L87.75,485.23 L88.39,484.68 L89.04,484.13 L89.69,483.58 L90.34,483.03 L90.99,482.46 L91.64,481.90 L92.29,481.34 L92.94,480.79 L93.59,480.25 L94.24,479.73 L94.88,479.24 L95.53,478.77 L96.18,478.32 L96.83,477.89 L97.48,477.46 L98.13,477.05 L98.78,476.65 L99.43,476.27 L100.08,475.89 L100.73,475.53 L101.38,475.18 L102.02,474.84 L102.67,474.51 L103.32,474.19 L103.97,473.87 L104.62,473.57 L105.27,473.28 L105.92,472.99 L106.57,472.72 L107.22,472.45 L107.87,472.20 L108.52,471.95 L109.16,471.71 L109.81,471.48 L110.46,471.26 L111.11,471.04 L111.76,470.83 L112.41,470.63 L113.06,470.43 L113.71,470.24 L114.36,470.05 L115.01,469.88 L115.65,469.71 L116.30,469.54 L116.95,469.38 L117.60,469.22 L118.25,469.06 L118.90,468.92 L119.55,468.78 L120.20,468.64 L120.85,468.51 L121.50,468.39 L122.15,468.27 L122.79,468.15 L123.44,468.03 L124.09,467.93 L124.74,467.82 L125.39,467.72 L126.04,467.62 L126.69,467.53 L127.34,467.44 L127.99,467.36 L128.64,467.28 L129.28,467.20 L129.93,467.13 L130.58,467.06 L131.23,466.99 L131.88,466.93 L132.53,466.86 L133.18,466.80 L133.83,466.73 L134.48,466.67 L135.13,466.60 L135.78,466.54 L136.42,466.48 L137.07,466.41 L137.72,466.35 L138.37,466.30 L139.02,466.24 L139.67,466.19 L140.32,466.14 L140.97,466.10 L141.62,466.05 L142.27,466.01 L142.92,465.97 L143.56,465.92 L144.21,465.88 L144.86,465.84 L145.51,465.80 L146.16,465.76 L146.81,465.73 L147.46,465.69 L148.11,465.65 L148.76,465.62 L149.41,465.59 L150.05,465.56 L150.70,465.53 L151.35,465.50 L152.00,465.48 L152.65,465.46 L153.30,465.44" fill="none" stroke="#12529A" stroke-width="1.5" stroke-linejoin="round" stroke-linecap="round"/>
<path d="M50.10,511.42 L50.75,511.41 L51.40,511.40 L52.05,511.39 L52.70,511.38 L53.35,511.38 L53.99,511.37 L54.64,511.36 L55.29,511.35 L55.94,511.34 L56.59,511.33 L57.24,511.33 L57.89,511.32 L58.54,511.31 L59.19,511.30 L59.84,511.29 L60.48,511.28 L61.13,511.28 L61.78,511.27 L62.43,511.26 L63.08,511.25 L63.73,511.24 L64.38,511.24 L65.03,511.23 L65.68,511.22 L66.33,511.21 L66.98,511.20 L67.62,511.19 L68.27,511.19 L68.92,511.18 L69.57,511.17 L70.22,511.16 L70.87,511.15 L71.52,511.15 L72.17,511.14 L72.82,511.13 L73.47,511.12 L74.12,511.11 L74.76,511.10 L75.41,511.10 L76.06,511.09 L76.71,511.08 L77.36,511.07 L78.01,511.06 L78.66,511.05 L79.31,511.05 L79.96,511.04 L80.61,511.03 L81.25,511.02 L81.90,511.01 L82.55,511.01 L83.20,511.00 L83.85,510.99 L84.50,510.98 L85.15,510.97 L85.80,510.96 L86.45,510.96 L87.10,510.95 L87.75,510.94 L88.39,510.93 L89.04,510.92 L89.69,510.92 L90.34,510.91 L90.99,510.90 L91.64,510.89 L92.29,510.88 L92.94,510.87 L93.59,510.87 L94.24,510.86 L94.88,510.85 L95.53,510.84 L96.18,510.83 L96.83,510.82 L97.48,510.82 L98.13,510.81 L98.78,510.80 L99.43,510.79 L100.08,510.78 L100.73,510.78 L101.38,510.77 L102.02,510.76 L102.67,510.75 L103.32,510.74 L103.97,510.73 L104.62,510.73 L105.27,510.72 L105.92,510.71 L106.57,510.70 L107.22,510.69 L107.87,510.68 L108.52,510.68 L109.16,510.67 L109.81,510.66 L110.46,510.65 L111.11,510.64 L111.76,510.64 L112.41,510.63 L113.06,510.62 L113.71,510.61 L114.36,510.60 L115.01,510.59 L115.65,510.59 L116.30,510.58 L116.95,510.57 L117.60,510.56 L118.25,510.55 L118.90,510.55 L119.55,510.54 L120.20,510.53 L120.85,510.52 L121.50,510.51 L122.15,510.50 L122.79,510.50 L123.44,510.49 L124.09,510.48 L124.74,510.47 L125.39,510.46 L126.04,510.45 L126.69,510.45 L127.34,510.44 L127.99,510.43 L128.64,510.42 L129.28,510.41 L129.93,510.41 L130.58,510.40 L131.23,510.39 L131.88,510.38 L132.53,510.37 L133.18,510.36 L133.83,510.36 L134.48,510.35 L135.13,510.34 L135.78,510.33 L136.42,510.32 L137.07,510.31 L137.72,510.31 L138.37,510.30 L139.02,510.29 L139.67,510.28 L140.32,510.27 L140.97,510.27 L141.62,510.26 L142.27,510.25 L142.92,510.24 L143.56,510.23 L144.21,510.22 L144.86,510.22 L145.51,510.21 L146.16,510.20 L146.81,510.19 L147.46,510.18 L148.11,510.18 L148.76,510.17 L149.41,510.16 L150.05,510.15 L150.70,510.14 L151.35,510.13 L152.00,510.13 L152.65,510.12 L153.30,510.11" fill="none" stroke="#551F74" stroke-width="1.5" stroke-linejoin="round" stroke-linecap="round"/>
<path d="M63.00,506.75 V500.91 M58.60,506.75 H67.40 M58.60,500.91 H67.40" stroke="#2a2a2a" stroke-width="1.25" fill="none"/>
<path d="M75.90,497.41 V491.58 M71.50,497.41 H80.30 M71.50,491.58 H80.30" stroke="#2a2a2a" stroke-width="1.25" fill="none"/>
<path d="M101.70,445.48 V426.81 M97.30,445.48 H106.10 M97.30,426.81 H106.10" stroke="#2a2a2a" stroke-width="1.25" fill="none"/>
<path d="M153.30,422.14 V410.47 M148.90,422.14 H157.70 M148.90,410.47 H157.70" stroke="#2a2a2a" stroke-width="1.25" fill="none"/>
<circle cx="50.10" cy="511.42" r="2.4" fill="#0B6E4F"/>
<circle cx="63.00" cy="503.60" r="2.4" fill="#0B6E4F"/>
<circle cx="75.90" cy="494.85" r="2.4" fill="#0B6E4F"/>
<circle cx="101.70" cy="435.91" r="2.4" fill="#0B6E4F"/>
<circle cx="153.30" cy="415.61" r="2.4" fill="#0B6E4F"/>
<path d="M50.10,510.83 V508.50 M45.70,510.83 H54.50 M45.70,508.50 H54.50" stroke="#2a2a2a" stroke-width="1.25" fill="none"/>
<path d="M63.00,501.50 V486.33 M58.60,501.50 H67.40 M58.60,486.33 H67.40" stroke="#2a2a2a" stroke-width="1.25" fill="none"/>
<path d="M75.90,460.65 V444.90 M71.50,460.65 H80.30 M71.50,444.90 H80.30" stroke="#2a2a2a" stroke-width="1.25" fill="none"/>
<path d="M101.70,420.39 V415.72 M97.30,420.39 H106.10 M97.30,415.72 H106.10" stroke="#2a2a2a" stroke-width="1.25" fill="none"/>
<path d="M153.30,446.65 V444.90 M148.90,446.65 H157.70 M148.90,444.90 H157.70" stroke="#2a2a2a" stroke-width="1.25" fill="none"/>
<circle cx="50.10" cy="509.67" r="2.4" fill="#CB0F34"/>
<circle cx="63.00" cy="493.33" r="2.4" fill="#CB0F34"/>
<circle cx="75.90" cy="452.25" r="2.4" fill="#CB0F34"/>
<circle cx="101.70" cy="418.87" r="2.4" fill="#CB0F34"/>
<circle cx="153.30" cy="445.71" r="2.4" fill="#CB0F34"/>
<path d="M101.70,464.74 V463.57 M97.30,464.74 H106.10 M97.30,463.57 H106.10" stroke="#2a2a2a" stroke-width="1.25" fill="none"/>
<path d="M153.30,476.41 V467.07 M148.90,476.41 H157.70 M148.90,467.07 H157.70" stroke="#2a2a2a" stroke-width="1.25" fill="none"/>
<circle cx="63.00" cy="511.65" r="2.4" fill="#12529A"/>
<circle cx="101.70" cy="464.15" r="2.4" fill="#12529A"/>
<circle cx="153.30" cy="472.09" r="2.4" fill="#12529A"/>
<path d="M50.10,513.17 V510.25 M45.70,513.17 H54.50 M45.70,510.25 H54.50" stroke="#2a2a2a" stroke-width="1.25" fill="none"/>
<path d="M75.90,511.42 V510.25 M71.50,511.42 H80.30 M71.50,510.25 H80.30" stroke="#2a2a2a" stroke-width="1.25" fill="none"/>
<path d="M153.30,511.42 V507.92 M148.90,511.42 H157.70 M148.90,507.92 H157.70" stroke="#2a2a2a" stroke-width="1.25" fill="none"/>
<circle cx="50.10" cy="512.00" r="2.4" fill="#551F74"/>
<circle cx="63.00" cy="511.42" r="2.4" fill="#551F74"/>
<circle cx="75.90" cy="510.83" r="2.4" fill="#551F74"/>
<circle cx="101.70" cy="512.00" r="2.4" fill="#551F74"/>
<circle cx="153.30" cy="509.67" r="2.4" fill="#551F74"/>
<text x="273.8" y="372.5" font-size="9.8" text-anchor="middle" font-weight="normal" fill="#1e1e1e" stroke-width="0.22">Kininogen cleavage in</text>
<text x="273.8" y="384.2" font-size="9.8" text-anchor="middle" font-weight="normal" fill="#1e1e1e" stroke-width="0.22">plasma by Plg-Lys<tspan dy="-4.12" font-size="7.25">311</tspan></text>
<line x1="210.9" y1="390.4" x2="210.9" y2="518.05" stroke="#1c1c1c" stroke-width="1.37"/>
<line x1="210.215" y1="517.5" x2="337.8" y2="517.5" stroke="#1c1c1c" stroke-width="1.1"/>
<line x1="207.5" y1="512.10" x2="210.9" y2="512.10" stroke="#1c1c1c" stroke-width="1.2"/>
<text transform="translate(206.4,515.2) scale(0.88,1)" font-size="8.7" text-anchor="end" font-weight="normal" fill="#1e1e1e" stroke-width="0.2">0</text>
<line x1="207.5" y1="482.88" x2="210.9" y2="482.88" stroke="#1c1c1c" stroke-width="1.2"/>
<text transform="translate(206.4,485.975) scale(0.88,1)" font-size="8.7" text-anchor="end" font-weight="normal" fill="#1e1e1e" stroke-width="0.2">25</text>
<line x1="207.5" y1="453.65" x2="210.9" y2="453.65" stroke="#1c1c1c" stroke-width="1.2"/>
<text transform="translate(206.4,456.75000000000006) scale(0.88,1)" font-size="8.7" text-anchor="end" font-weight="normal" fill="#1e1e1e" stroke-width="0.2">50</text>
<line x1="207.5" y1="424.43" x2="210.9" y2="424.43" stroke="#1c1c1c" stroke-width="1.2"/>
<text transform="translate(206.4,427.52500000000003) scale(0.88,1)" font-size="8.7" text-anchor="end" font-weight="normal" fill="#1e1e1e" stroke-width="0.2">75</text>
<line x1="207.5" y1="395.20" x2="210.9" y2="395.20" stroke="#1c1c1c" stroke-width="1.2"/>
<text transform="translate(206.4,398.30000000000007) scale(0.88,1)" font-size="8.7" text-anchor="end" font-weight="normal" fill="#1e1e1e" stroke-width="0.2">100</text>
<line x1="222.80" y1="517.5" x2="222.80" y2="520.9" stroke="#1c1c1c" stroke-width="1.2"/>
<text transform="translate(222.8,529.1999999999999) scale(0.88,1)" font-size="8.7" text-anchor="middle" font-weight="normal" fill="#1e1e1e" stroke-width="0.2">0</text>
<line x1="248.60" y1="517.5" x2="248.60" y2="520.9" stroke="#1c1c1c" stroke-width="1.2"/>
<text transform="translate(248.60000000000002,529.1999999999999) scale(0.88,1)" font-size="8.7" text-anchor="middle" font-weight="normal" fill="#1e1e1e" stroke-width="0.2">4</text>
<line x1="274.40" y1="517.5" x2="274.40" y2="520.9" stroke="#1c1c1c" stroke-width="1.2"/>
<text transform="translate(274.40000000000003,529.1999999999999) scale(0.88,1)" font-size="8.7" text-anchor="middle" font-weight="normal" fill="#1e1e1e" stroke-width="0.2">8</text>
<line x1="300.20" y1="517.5" x2="300.20" y2="520.9" stroke="#1c1c1c" stroke-width="1.2"/>
<text transform="translate(300.20000000000005,529.1999999999999) scale(0.88,1)" font-size="8.7" text-anchor="middle" font-weight="normal" fill="#1e1e1e" stroke-width="0.2">12</text>
<line x1="326.00" y1="517.5" x2="326.00" y2="520.9" stroke="#1c1c1c" stroke-width="1.2"/>
<text transform="translate(326.0,529.1999999999999) scale(0.88,1)" font-size="8.7" text-anchor="middle" font-weight="normal" fill="#1e1e1e" stroke-width="0.2">16</text>
<text transform="translate(273.3,543) scale(0.88,1)" font-size="9" text-anchor="middle" font-weight="normal" fill="#1e1e1e" stroke-width="0.2">Time (min)</text>
<path d="M222.80,511.52 L223.45,511.51 L224.10,511.51 L224.75,511.51 L225.40,511.51 L226.05,511.50 L226.69,511.50 L227.34,511.49 L227.99,511.48 L228.64,511.47 L229.29,511.46 L229.94,511.45 L230.59,511.44 L231.24,511.42 L231.89,511.41 L232.54,511.39 L233.18,511.38 L233.83,511.36 L234.48,511.34 L235.13,511.32 L235.78,511.30 L236.43,511.28 L237.08,511.26 L237.73,511.23 L238.38,511.21 L239.03,511.18 L239.68,511.16 L240.32,511.13 L240.97,511.10 L241.62,511.07 L242.27,511.04 L242.92,511.01 L243.57,510.98 L244.22,510.94 L244.87,510.91 L245.52,510.88 L246.17,510.84 L246.82,510.80 L247.46,510.77 L248.11,510.73 L248.76,510.69 L249.41,510.63 L250.06,510.57 L250.71,510.48 L251.36,510.39 L252.01,510.28 L252.66,510.16 L253.31,510.02 L253.95,509.88 L254.60,509.72 L255.25,509.56 L255.90,509.38 L256.55,509.20 L257.20,509.02 L257.85,508.82 L258.50,508.62 L259.15,508.42 L259.80,508.21 L260.45,508.00 L261.09,507.79 L261.74,507.58 L262.39,507.33 L263.04,507.06 L263.69,506.76 L264.34,506.43 L264.99,506.09 L265.64,505.72 L266.29,505.34 L266.94,504.95 L267.58,504.55 L268.23,504.14 L268.88,503.74 L269.53,503.33 L270.18,502.93 L270.83,502.54 L271.48,502.15 L272.13,501.78 L272.78,501.43 L273.43,501.10 L274.08,500.79 L274.72,500.50 L275.37,500.23 L276.02,499.95 L276.67,499.69 L277.32,499.43 L277.97,499.17 L278.62,498.92 L279.27,498.67 L279.92,498.43 L280.57,498.19 L281.22,497.95 L281.86,497.73 L282.51,497.50 L283.16,497.28 L283.81,497.06 L284.46,496.85 L285.11,496.64 L285.76,496.44 L286.41,496.24 L287.06,496.04 L287.71,495.85 L288.35,495.66 L289.00,495.47 L289.65,495.28 L290.30,495.10 L290.95,494.92 L291.60,494.74 L292.25,494.56 L292.90,494.39 L293.55,494.22 L294.20,494.06 L294.85,493.89 L295.49,493.74 L296.14,493.58 L296.79,493.43 L297.44,493.28 L298.09,493.14 L298.74,493.00 L299.39,492.86 L300.04,492.73 L300.69,492.60 L301.34,492.47 L301.98,492.35 L302.63,492.22 L303.28,492.10 L303.93,491.98 L304.58,491.87 L305.23,491.75 L305.88,491.64 L306.53,491.53 L307.18,491.42 L307.83,491.32 L308.48,491.22 L309.12,491.12 L309.77,491.03 L310.42,490.93 L311.07,490.84 L311.72,490.76 L312.37,490.68 L313.02,490.60 L313.67,490.52 L314.32,490.45 L314.97,490.38 L315.62,490.31 L316.26,490.24 L316.91,490.17 L317.56,490.10 L318.21,490.03 L318.86,489.97 L319.51,489.91 L320.16,489.85 L320.81,489.79 L321.46,489.74 L322.11,489.68 L322.75,489.63 L323.40,489.59 L324.05,489.54 L324.70,489.50 L325.35,489.46 L326.00,489.42" fill="none" stroke="#0B6E4F" stroke-width="1.5" stroke-linejoin="round" stroke-linecap="round"/>
<path d="M222.80,511.52 L223.45,511.52 L224.10,511.51 L224.75,511.51 L225.40,511.51 L226.05,511.51 L226.69,511.50 L227.34,511.50 L227.99,511.49 L228.64,511.49 L229.29,511.48 L229.94,511.47 L230.59,511.46 L231.24,511.45 L231.89,511.44 L232.54,511.43 L233.18,511.42 L233.83,511.41 L234.48,511.39 L235.13,511.38 L235.78,511.37 L236.43,511.35 L237.08,511.33 L237.73,511.32 L238.38,511.30 L239.03,511.28 L239.68,511.26 L240.32,511.24 L240.97,511.22 L241.62,511.20 L242.27,511.18 L242.92,511.16 L243.57,511.14 L244.22,511.11 L244.87,511.09 L245.52,511.06 L246.17,511.04 L246.82,511.01 L247.46,510.98 L248.11,510.95 L248.76,510.92 L249.41,510.88 L250.06,510.83 L250.71,510.76 L251.36,510.68 L252.01,510.58 L252.66,510.47 L253.31,510.36 L253.95,510.23 L254.60,510.09 L255.25,509.95 L255.90,509.79 L256.55,509.63 L257.20,509.46 L257.85,509.29 L258.50,509.11 L259.15,508.93 L259.80,508.74 L260.45,508.55 L261.09,508.36 L261.74,508.17 L262.39,507.95 L263.04,507.69 L263.69,507.41 L264.34,507.10 L264.99,506.78 L265.64,506.43 L266.29,506.07 L266.94,505.70 L267.58,505.32 L268.23,504.93 L268.88,504.54 L269.53,504.15 L270.18,503.76 L270.83,503.39 L271.48,503.02 L272.13,502.67 L272.78,502.33 L273.43,502.01 L274.08,501.72 L274.72,501.45 L275.37,501.18 L276.02,500.92 L276.67,500.66 L277.32,500.41 L277.97,500.17 L278.62,499.92 L279.27,499.68 L279.92,499.45 L280.57,499.22 L281.22,499.00 L281.86,498.78 L282.51,498.56 L283.16,498.35 L283.81,498.15 L284.46,497.95 L285.11,497.75 L285.76,497.56 L286.41,497.38 L287.06,497.20 L287.71,497.03 L288.35,496.86 L289.00,496.69 L289.65,496.53 L290.30,496.37 L290.95,496.22 L291.60,496.07 L292.25,495.92 L292.90,495.77 L293.55,495.63 L294.20,495.49 L294.85,495.35 L295.49,495.22 L296.14,495.09 L296.79,494.96 L297.44,494.83 L298.09,494.71 L298.74,494.59 L299.39,494.47 L300.04,494.36 L300.69,494.25 L301.34,494.13 L301.98,494.02 L302.63,493.91 L303.28,493.81 L303.93,493.70 L304.58,493.59 L305.23,493.49 L305.88,493.39 L306.53,493.29 L307.18,493.19 L307.83,493.10 L308.48,493.01 L309.12,492.92 L309.77,492.84 L310.42,492.75 L311.07,492.68 L311.72,492.60 L312.37,492.53 L313.02,492.47 L313.67,492.41 L314.32,492.34 L314.97,492.28 L315.62,492.22 L316.26,492.17 L316.91,492.11 L317.56,492.05 L318.21,492.00 L318.86,491.95 L319.51,491.90 L320.16,491.85 L320.81,491.80 L321.46,491.76 L322.11,491.72 L322.75,491.68 L323.40,491.64 L324.05,491.61 L324.70,491.58 L325.35,491.55 L326.00,491.53" fill="none" stroke="#CB0F34" stroke-width="1.5" stroke-linejoin="round" stroke-linecap="round"/>
<path d="M222.80,511.63 L223.45,511.63 L224.10,511.63 L224.75,511.63 L225.40,511.63 L226.05,511.62 L226.69,511.62 L227.34,511.61 L227.99,511.61 L228.64,511.60 L229.29,511.59 L229.94,511.58 L230.59,511.58 L231.24,511.57 L231.89,511.56 L232.54,511.54 L233.18,511.53 L233.83,511.52 L234.48,511.51 L235.13,511.49 L235.78,511.48 L236.43,511.46 L237.08,511.45 L237.73,511.43 L238.38,511.41 L239.03,511.39 L239.68,511.37 L240.32,511.35 L240.97,511.33 L241.62,511.31 L242.27,511.29 L242.92,511.27 L243.57,511.25 L244.22,511.22 L244.87,511.20 L245.52,511.17 L246.17,511.15 L246.82,511.12 L247.46,511.10 L248.11,511.07 L248.76,511.04 L249.41,511.00 L250.06,510.95 L250.71,510.89 L251.36,510.81 L252.01,510.73 L252.66,510.64 L253.31,510.54 L253.95,510.43 L254.60,510.32 L255.25,510.20 L255.90,510.08 L256.55,509.96 L257.20,509.84 L257.85,509.71 L258.50,509.59 L259.15,509.47 L259.80,509.35 L260.45,509.24 L261.09,509.13 L261.74,509.02 L262.39,508.92 L263.04,508.81 L263.69,508.70 L264.34,508.59 L264.99,508.47 L265.64,508.36 L266.29,508.24 L266.94,508.13 L267.58,508.02 L268.23,507.90 L268.88,507.79 L269.53,507.68 L270.18,507.57 L270.83,507.47 L271.48,507.37 L272.13,507.27 L272.78,507.17 L273.43,507.08 L274.08,507.00 L274.72,506.92 L275.37,506.84 L276.02,506.76 L276.67,506.69 L277.32,506.61 L277.97,506.54 L278.62,506.47 L279.27,506.40 L279.92,506.33 L280.57,506.27 L281.22,506.20 L281.86,506.14 L282.51,506.08 L283.16,506.02 L283.81,505.96 L284.46,505.90 L285.11,505.85 L285.76,505.79 L286.41,505.74 L287.06,505.69 L287.71,505.64 L288.35,505.59 L289.00,505.54 L289.65,505.50 L290.30,505.46 L290.95,505.41 L291.60,505.37 L292.25,505.33 L292.90,505.29 L293.55,505.25 L294.20,505.21 L294.85,505.17 L295.49,505.14 L296.14,505.10 L296.79,505.06 L297.44,505.02 L298.09,504.98 L298.74,504.94 L299.39,504.90 L300.04,504.86 L300.69,504.82 L301.34,504.78 L301.98,504.74 L302.63,504.69 L303.28,504.65 L303.93,504.61 L304.58,504.56 L305.23,504.52 L305.88,504.48 L306.53,504.43 L307.18,504.39 L307.83,504.35 L308.48,504.31 L309.12,504.27 L309.77,504.23 L310.42,504.19 L311.07,504.15 L311.72,504.11 L312.37,504.07 L313.02,504.04 L313.67,504.00 L314.32,503.97 L314.97,503.94 L315.62,503.90 L316.26,503.87 L316.91,503.84 L317.56,503.81 L318.21,503.78 L318.86,503.75 L319.51,503.72 L320.16,503.69 L320.81,503.66 L321.46,503.63 L322.11,503.60 L322.75,503.58 L323.40,503.55 L324.05,503.52 L324.70,503.50 L325.35,503.47 L326.00,503.45" fill="none" stroke="#12529A" stroke-width="1.5" stroke-linejoin="round" stroke-linecap="round"/>
<path d="M222.80,511.40 L223.45,511.39 L224.10,511.38 L224.75,511.37 L225.40,511.36 L226.05,511.35 L226.69,511.34 L227.34,511.33 L227.99,511.32 L228.64,511.31 L229.29,511.30 L229.94,511.30 L230.59,511.29 L231.24,511.28 L231.89,511.27 L232.54,511.26 L233.18,511.25 L233.83,511.24 L234.48,511.23 L235.13,511.22 L235.78,511.21 L236.43,511.20 L237.08,511.19 L237.73,511.18 L238.38,511.17 L239.03,511.16 L239.68,511.15 L240.32,511.14 L240.97,511.14 L241.62,511.13 L242.27,511.12 L242.92,511.11 L243.57,511.10 L244.22,511.09 L244.87,511.08 L245.52,511.07 L246.17,511.06 L246.82,511.05 L247.46,511.04 L248.11,511.03 L248.76,511.02 L249.41,511.01 L250.06,511.00 L250.71,510.99 L251.36,510.98 L252.01,510.98 L252.66,510.97 L253.31,510.96 L253.95,510.95 L254.60,510.94 L255.25,510.93 L255.90,510.92 L256.55,510.91 L257.20,510.90 L257.85,510.89 L258.50,510.88 L259.15,510.87 L259.80,510.86 L260.45,510.85 L261.09,510.84 L261.74,510.83 L262.39,510.82 L263.04,510.82 L263.69,510.81 L264.34,510.80 L264.99,510.79 L265.64,510.78 L266.29,510.77 L266.94,510.76 L267.58,510.75 L268.23,510.74 L268.88,510.73 L269.53,510.72 L270.18,510.71 L270.83,510.70 L271.48,510.69 L272.13,510.68 L272.78,510.67 L273.43,510.66 L274.08,510.66 L274.72,510.65 L275.37,510.64 L276.02,510.63 L276.67,510.62 L277.32,510.61 L277.97,510.60 L278.62,510.59 L279.27,510.58 L279.92,510.57 L280.57,510.56 L281.22,510.55 L281.86,510.54 L282.51,510.53 L283.16,510.52 L283.81,510.51 L284.46,510.50 L285.11,510.50 L285.76,510.49 L286.41,510.48 L287.06,510.47 L287.71,510.46 L288.35,510.45 L289.00,510.44 L289.65,510.43 L290.30,510.42 L290.95,510.41 L291.60,510.40 L292.25,510.39 L292.90,510.38 L293.55,510.37 L294.20,510.36 L294.85,510.35 L295.49,510.34 L296.14,510.34 L296.79,510.33 L297.44,510.32 L298.09,510.31 L298.74,510.30 L299.39,510.29 L300.04,510.28 L300.69,510.27 L301.34,510.26 L301.98,510.25 L302.63,510.24 L303.28,510.23 L303.93,510.22 L304.58,510.21 L305.23,510.20 L305.88,510.19 L306.53,510.18 L307.18,510.18 L307.83,510.17 L308.48,510.16 L309.12,510.15 L309.77,510.14 L310.42,510.13 L311.07,510.12 L311.72,510.11 L312.37,510.10 L313.02,510.09 L313.67,510.08 L314.32,510.07 L314.97,510.06 L315.62,510.05 L316.26,510.04 L316.91,510.03 L317.56,510.02 L318.21,510.02 L318.86,510.01 L319.51,510.00 L320.16,509.99 L320.81,509.98 L321.46,509.97 L322.11,509.96 L322.75,509.95 L323.40,509.94 L324.05,509.93 L324.70,509.92 L325.35,509.91 L326.00,509.90" fill="none" stroke="#551F74" stroke-width="1.5" stroke-linejoin="round" stroke-linecap="round"/>
<path d="M222.80,512.68 V510.35 M218.40,512.68 H227.20 M218.40,510.35 H227.20" stroke="#2a2a2a" stroke-width="1.25" fill="none"/>
<path d="M248.60,512.10 V509.18 M244.20,512.10 H253.00 M244.20,509.18 H253.00" stroke="#2a2a2a" stroke-width="1.25" fill="none"/>
<path d="M274.40,502.75 V499.24 M270.00,502.75 H278.80 M270.00,499.24 H278.80" stroke="#2a2a2a" stroke-width="1.25" fill="none"/>
<path d="M326.00,491.64 V487.55 M321.60,491.64 H330.40 M321.60,487.55 H330.40" stroke="#2a2a2a" stroke-width="1.25" fill="none"/>
<circle cx="248.60" cy="510.35" r="2.4" fill="#CB0F34"/>
<circle cx="274.40" cy="501.58" r="2.4" fill="#CB0F34"/>
<circle cx="326.00" cy="491.53" r="2.4" fill="#CB0F34"/>
<circle cx="222.80" cy="511.52" r="2.4" fill="#0B6E4F"/>
<circle cx="235.70" cy="511.52" r="2.4" fill="#0B6E4F"/>
<circle cx="248.60" cy="510.00" r="2.4" fill="#0B6E4F"/>
<circle cx="274.40" cy="500.64" r="2.4" fill="#0B6E4F"/>
<circle cx="326.00" cy="489.89" r="2.4" fill="#0B6E4F"/>
<path d="M274.40,507.66 V506.25 M270.00,507.66 H278.80 M270.00,506.25 H278.80" stroke="#2a2a2a" stroke-width="1.25" fill="none"/>
<path d="M326.00,503.92 V502.40 M321.60,503.92 H330.40 M321.60,502.40 H330.40" stroke="#2a2a2a" stroke-width="1.25" fill="none"/>
<circle cx="248.60" cy="511.75" r="2.4" fill="#12529A"/>
<circle cx="274.40" cy="506.96" r="2.4" fill="#12529A"/>
<circle cx="326.00" cy="503.22" r="2.4" fill="#12529A"/>
<path d="M326.00,510.93 V508.59 M321.60,510.93 H330.40 M321.60,508.59 H330.40" stroke="#2a2a2a" stroke-width="1.25" fill="none"/>
<circle cx="222.80" cy="511.52" r="2.4" fill="#551F74"/>
<circle cx="235.70" cy="511.52" r="2.4" fill="#551F74"/>
<circle cx="248.60" cy="510.93" r="2.4" fill="#551F74"/>
<circle cx="274.40" cy="510.93" r="2.4" fill="#551F74"/>
<circle cx="326.00" cy="509.88" r="2.4" fill="#551F74"/>
<circle cx="352.4" cy="421.7" r="2.4" fill="#0B6E4F"/>
<text x="358.29999999999995" y="424.3" font-size="7.45" text-anchor="start" font-weight="normal" fill="#1e1e1e" stroke-width="0.1">HK + LK</text>
<circle cx="352.4" cy="435.5" r="2.4" fill="#CB0F34"/>
<text x="358.29999999999995" y="438.1" font-size="7.45" text-anchor="start" font-weight="normal" fill="#1e1e1e" stroke-width="0.1">LK</text>
<circle cx="352.4" cy="449.2" r="2.4" fill="#12529A"/>
<text x="358.29999999999995" y="451.8" font-size="7.45" text-anchor="start" font-weight="normal" fill="#1e1e1e" stroke-width="0.1">HK</text>
<circle cx="352.4" cy="462.9" r="2.4" fill="#551F74"/>
<text x="358.29999999999995" y="465.5" font-size="7.45" text-anchor="start" font-weight="normal" fill="#1e1e1e" stroke-width="0.1">Vehicle</text>
<rect x="0" y="0" width="520" height="1" fill="#0a0a0a"/>
<rect x="0" y="548.4" width="520" height="1.6" fill="#0a0a0a"/>
<rect x="0" y="0" width="1.9" height="550" fill="#505050"/>
<rect x="517.8" y="0" width="2.2" height="550" fill="#4a4a4a"/>
</svg>
</body></html>
